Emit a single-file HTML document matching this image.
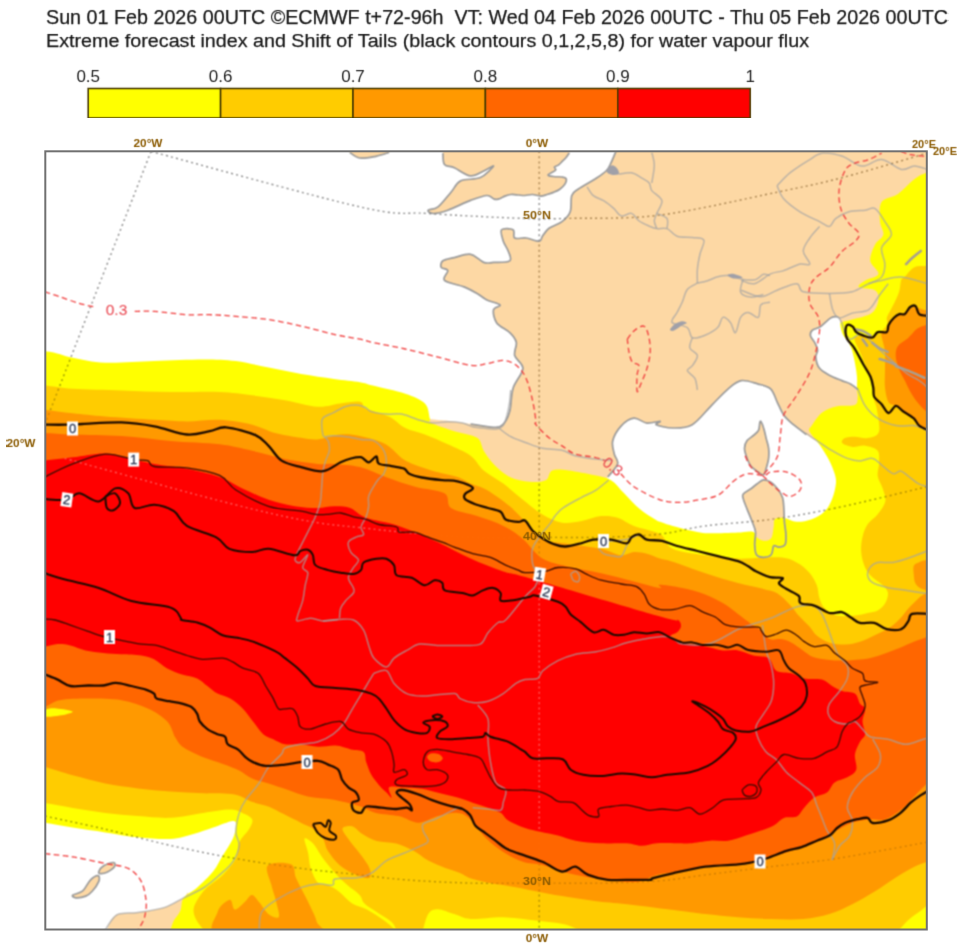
<!DOCTYPE html>
<html lang="en"><head><meta charset="utf-8"><title>ECMWF EFI water vapour flux</title>
<style>
html,body{margin:0;padding:0;background:#fff;}
body{width:980px;height:946px;overflow:hidden;font-family:"Liberation Sans",sans-serif;}
svg{display:block;font-family:"Liberation Sans",sans-serif;}
</style></head><body>
<svg width="980" height="946" viewBox="0 0 980 946">
<defs><clipPath id="fr"><rect x="45.3" y="151.3" width="881.5" height="778.2"/></clipPath>
<filter id="bl" x="0" y="0" width="100%" height="100%" color-interpolation-filters="sRGB"><feConvolveMatrix order="3" kernelMatrix="1 2 1 2 4 2 1 2 1" divisor="16" edgeMode="duplicate" preserveAlpha="true"/></filter><filter id="bt" x="0" y="0" width="100%" height="100%" color-interpolation-filters="sRGB"><feConvolveMatrix order="3" kernelMatrix="0 1 0 1 4 1 0 1 0" divisor="8" edgeMode="duplicate" preserveAlpha="false"/></filter></defs>
<rect width="980" height="946" fill="#fff"/>
<g filter="url(#bt)"><text x="46" y="24.2" font-size="19.3" fill="#1a1a1a" stroke="#1a1a1a" stroke-width="0.25" textLength="902" lengthAdjust="spacingAndGlyphs" xml:space="preserve">Sun 01 Feb 2026 00UTC ©ECMWF t+72-96h  VT: Wed 04 Feb 2026 00UTC - Thu 05 Feb 2026 00UTC</text>
<text x="46" y="47.3" font-size="18.8" fill="#1a1a1a" stroke="#1a1a1a" stroke-width="0.25" textLength="763" lengthAdjust="spacingAndGlyphs">Extreme forecast index and Shift of Tails (black contours 0,1,2,5,8) for water vapour flux</text>
<rect x="88.2" y="88.5" width="132.4" height="29.5" fill="#ffff00" stroke="#4a3c00" stroke-width="1.6"/>
<rect x="220.6" y="88.5" width="132.4" height="29.5" fill="#ffcc00" stroke="#4a3c00" stroke-width="1.6"/>
<rect x="353.0" y="88.5" width="132.4" height="29.5" fill="#ff9900" stroke="#4a3c00" stroke-width="1.6"/>
<rect x="485.4" y="88.5" width="132.4" height="29.5" fill="#ff6600" stroke="#4a3c00" stroke-width="1.6"/>
<rect x="617.8" y="88.5" width="132.4" height="29.5" fill="#ff0000" stroke="#4a3c00" stroke-width="1.6"/>
<text x="88.2" y="81.8" text-anchor="middle" font-size="17" fill="#222">0.5</text>
<text x="220.6" y="81.8" text-anchor="middle" font-size="17" fill="#222">0.6</text>
<text x="353.0" y="81.8" text-anchor="middle" font-size="17" fill="#222">0.7</text>
<text x="485.4" y="81.8" text-anchor="middle" font-size="17" fill="#222">0.8</text>
<text x="617.8" y="81.8" text-anchor="middle" font-size="17" fill="#222">0.9</text>
<text x="750.2" y="81.8" text-anchor="middle" font-size="17" fill="#222">1</text></g>
<g clip-path="url(#fr)">
<g filter="url(#bl)">
<rect x="30" y="136" width="920" height="810" fill="#fff"/>
<path d="M615.9,146.5 L615.9,146.5 C615.9,147.3 616.7,148.7 615.9,151.4 C615.1,154.1 612.6,159.6 611.0,162.9 C609.4,166.2 608.8,168.3 606.1,171.0 C603.4,173.7 599.3,176.2 594.7,179.2 C590.1,182.2 582.2,186.3 578.4,189.0 C574.6,191.7 573.2,191.7 571.8,195.5 C570.4,199.3 571.8,207.5 570.2,211.8 C568.6,216.2 565.5,218.9 562.0,221.6 C558.5,224.3 552.3,225.8 549.0,228.2 C545.7,230.6 544.0,234.1 542.4,236.3 C540.8,238.5 541.9,240.9 539.2,241.2 C536.5,241.5 530.2,238.5 526.1,238.0 C522.0,237.5 516.9,239.4 514.7,238.0 C512.5,236.6 515.3,231.2 513.1,229.8 C510.9,228.4 503.2,227.9 501.6,229.8 C500.0,231.7 502.2,237.7 503.3,241.2 C504.4,244.7 507.1,247.7 508.2,251.0 C509.3,254.3 512.2,258.9 509.8,260.8 C507.4,262.7 497.9,262.1 493.5,262.4 C489.1,262.7 487.5,263.8 483.7,262.4 C479.9,261.0 475.5,255.1 470.6,254.3 C465.7,253.5 458.9,256.5 454.3,257.6 C449.7,258.7 445.1,259.2 442.9,260.8 C440.7,262.4 440.4,265.7 441.2,267.3 C442.0,268.9 447.2,268.4 447.8,270.6 C448.4,272.8 441.8,277.7 444.5,280.4 C447.2,283.1 458.7,284.7 464.1,286.9 C469.5,289.1 473.3,291.3 477.1,293.5 C480.9,295.7 483.1,298.1 486.9,300.0 C490.7,301.9 498.9,303.3 500.0,304.9 C501.1,306.5 494.1,306.8 493.5,309.8 C492.9,312.8 494.0,319.1 496.7,322.9 C499.4,326.7 506.5,329.4 509.8,332.7 C513.1,335.9 515.5,338.6 516.3,342.4 C517.1,346.2 513.6,351.1 514.7,355.5 C515.8,359.9 523.2,363.2 522.9,368.6 C522.6,374.1 515.3,381.1 513.1,388.2 C510.9,395.3 511.4,405.0 509.8,411.0 C508.2,417.0 506.0,421.4 503.3,424.1 C500.6,426.8 498.9,427.3 493.5,427.3 C488.1,427.3 478.2,425.2 470.6,424.1 C463.0,423.0 454.3,421.6 447.8,420.8 C441.3,420.0 438.5,420.3 431.4,419.2 C424.3,418.1 415.1,416.2 405.3,414.3 C395.5,412.4 380.9,409.2 372.7,407.8 C364.5,406.4 361.8,405.6 356.3,406.1 C350.9,406.6 342.7,410.2 340.0,411.0 L340,600 L960,600 L960,130 Z" fill="#fdd8a4" />
<path d="M442.9,146.5 C442.9,147.6 442.6,150.1 442.9,153.1 C443.2,156.1 442.6,162.1 444.5,164.5 C446.4,166.9 449.9,165.9 454.3,167.8 C458.7,169.7 465.7,175.4 470.6,175.9 C475.5,176.4 479.9,172.6 483.7,171.0 C487.5,169.4 494.1,165.0 493.5,166.1 C492.9,167.2 485.8,175.1 480.4,177.6 C474.9,180.1 465.7,178.4 460.8,180.8 C455.9,183.2 454.8,187.8 451.0,192.2 C447.2,196.5 441.8,203.9 438.0,206.9 C434.2,209.9 429.0,209.1 428.2,210.2 C427.4,211.3 429.8,213.5 433.1,213.5 C436.4,213.5 441.6,212.4 447.8,210.2 C454.1,208.0 464.1,202.8 470.6,200.4 C477.1,198.0 483.0,195.7 486.9,195.5 C490.8,195.3 492.1,198.7 494.2,199.2 C496.3,199.7 497.7,199.2 499.5,198.7 C501.3,198.2 502.9,196.8 504.8,196.1 C506.7,195.4 508.8,194.7 511.1,194.5 C513.4,194.3 516.2,194.8 518.5,195.0 C520.8,195.2 522.6,195.6 524.9,195.5 C527.2,195.4 529.7,194.4 532.3,194.5 C534.9,194.6 538.2,196.1 540.7,196.1 C543.2,196.1 545.0,195.1 547.1,194.5 C549.2,193.9 551.3,193.3 553.4,192.4 C555.5,191.5 557.8,190.6 559.8,189.2 C561.8,187.8 564.0,185.7 565.1,183.9 C566.2,182.1 566.6,179.8 566.1,178.6 C565.6,177.4 564.0,177.3 561.9,177.0 C559.8,176.7 555.7,176.8 553.4,176.5 C551.1,176.2 547.8,176.0 548.1,174.9 C548.5,173.8 554.4,171.5 555.5,170.2 C556.6,168.9 554.0,167.9 554.5,167.0 C555.0,166.1 557.3,166.0 558.7,164.9 C560.1,163.8 561.7,161.9 562.9,160.7 C564.1,159.5 565.0,158.8 566.1,157.5 C567.2,156.2 568.6,155.5 569.3,152.7 C570.0,149.9 570.1,142.6 570.3,140.6Z" fill="#fdd8a4" />
<path d="M349.8,146.5 C349.8,147.5 348.2,150.5 349.8,152.4 C351.4,154.3 355.2,157.3 359.6,158.0 C364.0,158.7 371.0,157.2 375.9,156.3 C380.8,155.4 386.8,154.0 389.0,152.4 C391.2,150.8 389.0,147.5 389.0,146.5Z" fill="#fdd8a4" />
<path d="M542.4,539.0 C543.5,536.8 546.8,530.2 549.0,525.9 C551.2,521.5 552.2,517.2 555.5,512.9 C558.8,508.5 563.1,503.6 568.6,499.8 C574.1,496.0 581.7,493.8 588.2,490.0 C594.7,486.2 602.9,481.2 607.8,476.9 C612.7,472.5 616.5,467.7 617.6,463.9 C618.7,460.1 615.1,457.9 614.3,454.1 C613.5,450.3 611.6,445.6 612.7,441.0 C613.8,436.4 617.3,430.1 620.8,426.3 C624.3,422.5 629.5,418.7 633.9,418.2 C638.2,417.7 642.5,422.6 646.9,423.1 C651.2,423.6 658.4,421.1 660.0,421.4 C661.6,421.7 654.2,423.6 656.3,424.7 C658.4,425.8 666.7,428.0 672.7,428.0 C678.7,428.0 685.7,428.5 692.2,424.7 C698.7,420.9 705.8,411.1 711.8,405.1 C717.8,399.1 723.3,392.9 728.2,388.8 C733.1,384.7 736.3,381.4 741.2,380.6 C746.1,379.8 752.7,382.5 757.6,383.9 C762.5,385.3 767.4,385.8 770.6,388.8 C773.9,391.8 774.9,397.5 777.1,401.8 C779.3,406.1 781.0,411.1 783.7,414.9 C786.4,418.7 789.7,421.4 793.5,424.7 C797.3,428.0 802.7,431.8 806.5,434.5 C810.3,437.2 812.5,438.8 816.3,441.0 C820.1,443.2 823.4,444.9 829.4,447.6 C835.4,450.3 845.1,455.1 852.2,457.3 C859.3,459.5 866.3,458.4 871.8,460.6 C877.2,462.8 878.9,468.2 884.9,470.4 C890.9,472.6 901.8,471.5 907.8,473.7 C913.8,475.9 916.4,481.3 920.8,483.5 C925.1,485.7 931.7,462.3 933.9,486.7 C936.1,511.1 982.9,606.2 933.9,630.1 C884.9,654.0 689.0,630.1 640.0,630.1Z" fill="#fff" />
<path d="M838.3,316.8 C836.6,315.6 834.1,316.1 831.1,317.7 C828.1,319.3 823.4,324.6 820.3,326.7 C817.1,328.8 813.9,328.8 812.2,330.3 C810.6,331.8 810.0,333.6 810.4,335.7 C810.8,337.8 813.7,340.5 814.9,342.9 C816.1,345.3 817.5,347.7 817.6,350.1 C817.8,352.5 815.5,354.3 815.8,357.3 C816.1,360.3 817.1,365.1 819.4,368.1 C821.6,371.1 825.5,373.1 829.3,375.2 C833.0,377.3 838.3,379.1 841.9,380.6 C845.5,382.1 848.2,382.7 850.9,384.2 C853.6,385.7 856.9,390.8 858.1,389.6 C859.3,388.4 858.4,381.2 858.1,377.0 C857.8,372.8 857.0,368.7 856.3,364.5 C855.5,360.3 854.6,355.5 853.6,351.9 C852.6,348.3 851.6,345.9 850.0,342.9 C848.4,339.9 845.2,336.9 843.7,333.9 C842.2,330.9 841.9,327.8 841.0,324.9 C840.1,322.0 839.9,318.0 838.3,316.8Z" fill="#fff" />
<path d="M761.0,421.6 C761.6,422.5 762.8,425.1 763.6,427.9 C764.5,430.6 765.3,434.7 766.1,438.1 C766.9,441.5 768.2,444.8 768.6,448.2 C769.0,451.6 769.0,455.0 768.6,458.4 C768.2,461.8 766.9,465.8 766.1,468.5 C765.3,471.2 764.9,474.2 763.6,474.8 C762.3,475.4 760.6,473.8 758.5,472.3 C756.4,470.8 752.8,468.3 750.9,466.0 C749.0,463.7 748.2,461.4 747.1,458.4 C746.0,455.4 744.5,451.2 744.5,448.2 C744.5,445.2 745.6,442.7 747.1,440.6 C748.6,438.5 751.5,437.2 753.4,435.5 C755.3,433.8 757.4,432.5 758.5,430.4 C759.6,428.3 759.4,424.3 759.8,422.8 C760.2,421.3 760.4,420.8 761.0,421.6Z" fill="#fdd8a4" />
<path d="M763.6,479.9 C765.9,479.7 768.9,481.0 771.2,482.5 C773.5,484.0 775.6,486.3 777.5,488.8 C779.4,491.3 781.5,494.3 782.6,497.7 C783.7,501.1 783.6,505.1 783.9,509.1 C784.2,513.1 784.1,517.6 784.4,521.8 C784.7,526.0 785.8,530.7 785.9,534.5 C786.0,538.3 786.3,542.5 785.1,544.6 C783.9,546.7 780.7,546.9 778.8,547.1 C776.9,547.3 775.0,544.6 773.7,545.9 C772.4,547.2 772.9,552.9 771.2,554.8 C769.5,556.7 766.1,557.3 763.6,557.3 C761.1,557.3 758.0,556.9 756.5,554.8 C755.0,552.7 754.9,548.4 754.7,544.6 C754.5,540.8 755.9,535.7 755.5,531.9 C755.1,528.1 753.6,525.6 752.2,521.8 C750.8,518.0 748.6,512.9 747.1,509.1 C745.6,505.3 743.9,501.4 743.3,498.9 C742.7,496.4 742.0,495.6 743.3,493.9 C744.6,492.2 748.6,490.5 750.9,488.8 C753.2,487.1 755.1,485.2 757.2,483.7 C759.3,482.2 761.3,480.1 763.6,479.9Z" fill="#fdd8a4" />
<path d="M105.3,935.3 C106.1,933.1 108.0,925.7 110.2,922.2 C112.4,918.7 113.8,915.7 118.4,914.1 C123.0,912.5 130.4,913.5 138.0,912.4 C145.6,911.3 156.5,910.0 164.1,907.6 C171.7,905.2 179.6,899.9 183.7,897.8 C187.8,895.7 187.0,888.9 188.6,895.1 C190.2,901.4 192.7,928.6 193.5,935.3Z" fill="#fdd8a4" />
<path d="M98.8,871.6 C99.3,870.3 101.2,867.3 103.7,865.8 C106.2,864.3 111.7,862.4 113.5,862.5 C115.3,862.6 115.5,865.1 114.4,866.7 C113.3,868.3 109.2,871.1 106.9,872.3 C104.6,873.4 101.8,873.7 100.4,873.6 C99.1,873.5 98.2,872.9 98.8,871.6Z" fill="#fdd8a4" />
<path d="M72.7,895.1 C73.8,894.0 79.4,893.8 82.4,891.2 C85.4,888.7 88.0,882.4 90.6,879.8 C93.2,877.2 96.7,875.3 98.1,875.6 C99.5,875.9 99.8,878.8 98.8,881.4 C97.8,884.0 94.4,888.8 92.2,891.2 C90.0,893.7 88.4,895.0 85.7,896.1 C83.0,897.2 78.1,898.0 75.9,897.8 C73.7,897.6 71.6,896.2 72.7,895.1Z" fill="#fdd8a4" />
<path d="M-10.0,349.2 C-0.8,349.5 31.1,349.8 44.9,351.2 C58.7,352.6 62.6,355.9 72.7,357.8 C82.8,359.7 91.7,362.2 105.3,362.7 C118.9,363.2 138.0,361.6 154.3,361.0 C170.6,360.4 189.7,359.4 203.3,359.4 C216.9,359.4 225.0,359.6 235.9,361.0 C246.8,362.4 257.7,365.4 268.6,367.6 C279.5,369.8 290.3,372.2 301.2,374.1 C312.1,376.0 324.1,377.6 333.9,379.0 C343.7,380.4 353.5,381.1 360.0,382.2 C366.5,383.3 365.1,383.6 372.7,385.5 C380.2,387.4 396.6,390.7 405.3,393.7 C414.0,396.7 420.8,399.4 424.9,403.5 C429.0,407.6 428.7,414.9 429.8,418.2 C430.9,421.5 427.3,420.9 431.4,423.1 C435.5,425.3 446.7,428.8 454.3,431.2 C461.9,433.6 472.2,434.5 477.1,437.8 C482.0,441.1 481.0,446.5 483.7,450.8 C486.4,455.1 489.1,459.5 493.5,463.9 C497.9,468.2 503.8,473.9 509.8,476.9 C515.8,479.9 523.4,481.2 529.4,481.8 C535.4,482.4 541.9,482.1 545.7,480.2 C549.5,478.3 548.4,472.0 552.2,470.4 C556.0,468.8 561.5,469.6 568.6,470.4 C575.7,471.2 587.6,473.7 594.7,475.3 C601.8,476.9 606.1,477.2 611.0,480.2 C615.9,483.2 619.2,488.4 624.1,493.3 C629.0,498.2 634.4,504.7 640.4,509.6 C646.4,514.5 657.9,521.1 660.0,522.7 C662.1,524.3 651.0,518.9 653.1,519.4 C655.2,519.9 664.9,523.7 672.7,525.9 C680.5,528.1 693.0,531.2 700.1,532.4 C707.2,533.6 708.6,533.2 715.4,533.2 C722.2,533.2 734.4,532.6 740.7,532.4 C747.0,532.2 750.8,531.1 753.4,531.9 C756.0,532.7 754.8,535.5 756.5,537.0 C758.2,538.5 761.1,540.6 763.6,540.8 C766.1,541.0 769.5,540.6 771.2,538.3 C772.9,536.0 773.1,530.0 773.7,526.8 C774.3,523.6 773.2,520.7 775.0,519.2 C776.8,517.7 780.8,517.6 784.4,518.0 C788.0,518.4 792.0,521.6 796.6,521.8 C801.2,522.0 807.1,520.9 811.8,519.2 C816.4,517.5 821.1,515.0 824.5,511.6 C827.9,508.2 830.2,503.5 832.1,498.9 C834.0,494.2 835.5,487.9 835.9,483.7 C836.3,479.5 835.7,477.4 834.6,473.6 C833.5,469.8 831.6,465.1 829.5,460.9 C827.4,456.7 824.4,452.0 821.9,448.2 C819.4,444.4 816.4,441.1 814.3,438.1 C812.2,435.1 809.6,432.5 809.2,430.4 C808.8,428.3 809.7,428.3 811.8,425.4 C813.9,422.4 817.7,415.9 821.9,412.7 C826.1,409.5 831.6,407.6 837.1,406.3 C842.6,405.0 851.5,406.7 854.9,405.1 C858.3,403.5 857.4,399.4 857.7,396.8 C858.1,394.2 857.1,392.9 857.0,389.6 C856.9,386.3 857.3,381.2 857.0,377.0 C856.7,372.8 856.0,368.7 855.2,364.5 C854.5,360.3 853.5,355.5 852.5,351.9 C851.5,348.3 850.5,345.9 848.9,342.9 C847.2,339.9 844.0,336.9 842.6,333.9 C841.2,330.9 840.5,326.8 840.4,324.9 C840.3,322.9 839.9,323.1 841.9,322.2 C843.9,321.3 847.2,321.1 852.2,319.6 C857.2,318.1 867.4,316.4 871.8,313.1 C876.2,309.8 877.8,303.8 878.4,300.0 C879.0,296.2 878.4,292.4 875.1,290.2 C871.8,288.0 860.4,288.5 858.8,286.9 C857.2,285.3 862.0,282.6 865.3,280.4 C868.6,278.2 877.6,277.2 878.4,273.9 C879.2,270.6 870.8,265.7 870.2,260.8 C869.7,255.9 872.9,248.8 875.1,244.5 C877.3,240.2 882.5,238.5 883.3,234.7 C884.1,230.9 880.3,227.0 880.0,221.6 C879.7,216.2 878.6,206.6 881.6,202.0 C884.6,197.4 892.5,197.7 898.0,193.9 C903.5,190.1 909.4,182.7 914.3,179.2 C919.2,175.7 921.3,174.3 927.3,172.7 C933.3,171.1 946.4,169.9 950.2,169.4 L960,170 L960,960 L171,960 L170.6,935.3 C170.6,934.4 170.0,932.5 170.6,930.1 C171.2,927.7 172.3,923.8 173.9,920.6 C175.5,917.4 178.8,914.6 180.4,910.8 C182.0,907.0 181.0,901.6 183.7,897.8 C186.4,894.0 191.8,892.4 196.7,888.0 C201.6,883.6 208.7,877.1 213.1,871.6 C217.5,866.1 219.6,860.7 222.9,855.3 C226.2,849.9 230.5,843.9 232.7,839.0 C234.9,834.1 235.9,828.9 235.9,825.9 C235.9,822.9 236.5,820.7 232.7,821.0 C228.9,821.3 219.6,825.4 213.1,827.6 C206.6,829.8 200.6,832.2 193.5,834.1 C186.4,836.0 179.8,838.5 170.6,839.0 C161.3,839.5 148.9,838.4 138.0,837.3 C127.1,836.2 116.2,834.0 105.3,832.4 C94.4,830.8 82.8,829.2 72.7,827.6 C62.6,826.0 52.5,823.8 44.9,822.7 C37.3,821.6 29.9,821.3 26.9,821.0Z" fill="#ffff00" />
<path d="M26.9,385.5 C29.9,385.5 37.3,384.9 44.9,385.5 C52.5,386.1 59.9,388.0 72.7,388.8 C85.5,389.6 105.3,389.9 121.6,390.4 C137.9,390.9 154.3,391.7 170.6,392.0 C186.9,392.3 206.0,391.4 219.6,392.0 C233.2,392.6 241.3,393.9 252.2,395.3 C263.1,396.7 274.0,398.3 284.9,400.2 C295.8,402.1 308.4,406.1 317.6,406.7 C326.9,407.2 333.3,404.3 340.4,403.5 C347.5,402.7 355.7,401.0 360.0,401.8 C364.3,402.6 361.3,405.9 366.1,408.4 C370.9,410.8 382.5,413.2 389.0,416.5 C395.5,419.8 399.3,425.0 405.3,428.0 C411.3,431.0 417.8,431.8 424.9,434.5 C432.0,437.2 440.2,440.8 447.8,444.3 C455.4,447.8 464.6,451.4 470.6,455.7 C476.6,460.0 478.2,465.8 483.7,470.4 C489.1,475.0 496.8,478.6 503.3,483.5 C509.8,488.4 516.4,494.6 522.9,499.8 C529.4,505.0 535.9,510.7 542.4,514.5 C548.9,518.3 555.5,521.6 562.0,522.7 C568.5,523.8 575.1,522.1 581.6,521.0 C588.1,519.9 595.2,516.6 601.2,516.1 C607.2,515.6 612.2,516.2 617.6,517.8 C623.0,519.4 626.8,523.2 633.9,525.9 C641.0,528.6 653.5,530.3 660.0,534.1 C666.5,537.9 665.2,545.3 672.7,548.8 C680.2,552.3 694.4,553.7 705.3,555.3 C716.2,556.9 725.8,558.3 738.0,558.6 C750.2,558.9 769.0,556.7 778.8,557.3 C788.6,557.9 791.5,559.9 796.6,562.4 C801.7,564.9 805.8,568.7 809.2,572.5 C812.6,576.3 815.1,581.0 816.8,585.2 C818.5,589.4 818.1,594.1 819.4,597.9 C820.7,601.7 821.5,605.0 824.5,608.0 C827.5,611.0 832.0,614.3 837.1,615.6 C842.2,616.9 849.8,616.0 854.9,615.6 C860.0,615.2 863.8,613.9 867.6,613.1 C871.4,612.3 874.8,612.3 877.7,610.6 C880.7,608.9 883.6,606.0 885.3,603.0 C887.0,600.0 888.3,595.8 887.9,592.8 C887.5,589.8 885.3,587.7 882.8,585.2 C880.3,582.7 875.7,580.6 872.7,577.6 C869.8,574.6 867.0,571.6 865.1,567.4 C863.2,563.2 861.6,557.3 861.2,552.2 C860.8,547.1 861.4,541.6 862.5,537.0 C863.6,532.4 865.1,528.1 867.6,524.3 C870.1,520.5 874.8,518.0 877.7,514.2 C880.7,510.4 884.4,505.7 885.3,501.5 C886.1,497.3 884.1,493.0 882.8,488.8 C881.5,484.6 878.3,480.3 877.7,476.1 C877.1,471.9 879.0,467.6 879.0,463.4 C879.0,459.2 880.0,453.6 877.7,450.7 C875.4,447.8 869.3,446.3 865.1,445.7 C860.9,445.1 856.2,447.3 852.4,446.9 C848.6,446.5 843.5,444.6 842.2,443.1 C840.9,441.6 842.7,439.2 844.8,438.1 C846.9,437.1 851.1,436.8 854.9,436.8 C858.7,436.8 863.6,439.0 867.6,438.1 C871.6,437.2 877.5,436.5 879.0,431.7 C880.5,426.9 877.7,414.6 876.9,409.4 C876.1,404.2 874.8,403.4 874.2,400.4 C873.6,397.4 873.9,395.0 873.3,391.4 C872.7,387.8 872.0,383.3 870.6,378.8 C869.2,374.3 867.0,369.0 865.2,364.5 C863.4,360.0 861.7,356.1 859.9,351.9 C858.1,347.7 854.5,342.0 854.5,339.3 C854.5,336.6 857.2,336.0 859.9,335.7 C862.6,335.4 867.6,337.8 870.6,337.5 C873.6,337.2 875.1,336.0 877.8,333.9 C880.5,331.8 885.3,327.6 886.8,324.9 C888.3,322.2 886.2,320.1 886.8,317.7 C887.4,315.3 888.9,313.5 890.4,310.5 C891.9,307.5 894.3,303.1 895.8,299.8 C897.3,296.5 898.5,294.1 899.4,290.8 C900.3,287.5 900.4,282.3 901.2,280.0 C902.1,277.7 902.3,279.2 904.5,277.1 C906.7,275.0 910.5,269.2 914.3,267.3 C918.1,265.4 921.3,266.2 927.3,265.7 C933.3,265.2 946.4,264.4 950.2,264.1 L960,265 L960,960  L203.3,935.3 C203.3,934.4 204.4,932.5 203.3,930.1 C202.2,927.7 198.3,923.8 196.7,920.6 C195.1,917.4 193.5,914.1 193.5,910.8 C193.5,907.5 194.5,904.8 196.7,901.0 C198.9,897.2 202.1,892.4 206.5,888.0 C210.9,883.6 218.0,879.8 222.9,874.9 C227.8,870.0 233.2,864.0 235.9,858.6 C238.6,853.2 237.0,847.1 239.2,842.2 C241.4,837.3 246.8,833.0 249.0,829.2 C251.2,825.4 253.3,822.1 252.2,819.4 C251.1,816.7 246.2,814.5 242.4,812.9 C238.6,811.3 235.9,809.6 229.4,809.6 C222.9,809.6 213.1,811.5 203.3,812.9 C193.5,814.3 181.5,817.3 170.6,817.8 C159.7,818.3 148.9,816.9 138.0,816.1 C127.1,815.3 116.2,814.2 105.3,812.9 C94.4,811.5 82.8,809.6 72.7,808.0 C62.6,806.4 52.5,804.2 44.9,803.1 C37.3,802.0 29.9,801.7 26.9,801.4Z" fill="#ffcc00" />
<path d="M304.5,838.6 C305.3,837.0 310.0,840.2 313.1,843.5 C316.2,846.8 319.2,853.3 322.9,858.2 C326.6,863.1 331.0,868.4 335.1,872.9 C339.2,877.4 343.2,881.4 347.3,885.1 C351.4,888.8 356.7,891.8 359.6,894.9 C362.5,898.0 361.6,900.6 364.5,903.5 C367.4,906.4 372.2,909.0 376.7,912.0 C381.2,915.0 388.3,918.9 391.4,921.8 C394.5,924.7 396.3,929.4 395.1,929.2 C393.9,929.0 388.8,923.9 384.1,920.6 C379.4,917.3 372.2,912.5 366.9,909.6 C361.6,906.8 356.7,906.4 352.2,903.5 C347.7,900.6 344.1,895.5 340.0,892.4 C335.9,889.3 331.5,886.7 327.8,885.1 C324.1,883.5 320.9,885.6 318.0,882.7 C315.1,879.9 312.2,872.9 310.6,868.0 C309.0,863.1 309.2,858.2 308.2,853.3 C307.2,848.4 303.7,840.2 304.5,838.6Z" fill="#ffff00" />
<path d="M421.6,935.3 C422.7,931.8 425.5,918.5 428.2,914.1 C430.9,909.8 433.6,909.2 438.0,909.2 C442.4,909.2 448.9,912.5 454.3,914.1 C459.7,915.7 462.4,918.5 470.6,919.0 C478.8,919.5 492.4,917.0 503.3,917.3 C514.2,917.6 525.0,919.2 535.9,920.6 C546.8,922.0 560.4,923.0 568.6,925.5 C576.8,928.0 582.2,933.7 584.9,935.3Z" fill="#ffff00" />
<path d="M894.7,935.3 C896.9,932.8 903.4,924.7 907.8,920.6 C912.1,916.5 916.4,914.1 920.8,910.8 C925.1,907.5 929.0,903.2 933.9,901.0 C938.8,898.8 947.5,892.1 950.2,897.8 C952.9,903.5 950.2,929.0 950.2,935.3Z" fill="#ffff00" />
<path d="M26.9,410.0 C29.9,410.0 37.3,409.4 44.9,410.0 C52.5,410.6 62.6,412.2 72.7,413.3 C82.8,414.4 91.7,415.4 105.3,416.5 C118.9,417.6 140.7,419.0 154.3,419.8 C167.9,420.6 176.0,421.4 186.9,421.4 C197.8,421.4 208.7,419.2 219.6,419.8 C230.5,420.4 242.9,422.5 252.2,424.7 C261.4,426.9 266.9,430.7 275.1,432.9 C283.3,435.1 294.1,436.7 301.2,437.8 C308.3,438.9 311.1,439.9 317.6,439.4 C324.1,438.8 333.3,435.1 340.4,434.5 C347.5,433.9 352.4,434.5 360.0,436.1 C367.6,437.7 378.1,440.2 385.7,444.3 C393.2,448.4 397.7,456.2 405.3,460.6 C412.9,465.0 422.7,467.7 431.4,470.4 C440.1,473.1 451.1,474.7 457.6,476.9 C464.1,479.1 465.7,481.3 470.6,483.5 C475.5,485.7 480.4,486.2 486.9,490.0 C493.4,493.8 503.3,500.9 509.8,506.3 C516.3,511.8 520.7,517.2 526.1,522.7 C531.5,528.2 535.3,535.5 542.4,539.0 C549.5,542.5 558.8,542.3 568.6,543.9 C578.4,545.5 592.5,546.9 601.2,548.8 C609.9,550.7 615.3,554.8 620.8,555.3 C626.2,555.8 629.5,552.3 633.9,552.0 C638.2,551.7 642.5,552.6 646.9,553.7 C651.2,554.8 655.7,557.2 660.0,558.6 C664.3,560.0 665.2,559.3 672.7,561.8 C680.2,564.2 694.4,569.8 705.3,573.3 C716.2,576.8 727.2,580.2 738.0,583.1 C748.8,586.0 762.9,588.5 770.0,590.6 C777.1,592.7 777.2,593.2 780.8,595.9 C784.4,598.6 788.6,603.4 791.6,606.7 C794.6,610.0 795.8,612.4 798.8,615.7 C801.8,619.0 806.5,623.2 809.5,626.5 C812.5,629.8 813.4,632.8 816.7,635.5 C820.0,638.2 824.5,641.2 829.3,642.7 C834.1,644.2 840.4,644.6 845.5,644.5 C850.6,644.4 855.1,643.3 859.9,641.8 C864.7,640.3 869.4,637.8 874.2,635.5 C879.0,633.2 884.4,631.0 888.6,628.3 C892.8,625.6 896.1,622.6 899.4,619.3 C902.7,616.0 905.4,611.8 908.4,608.5 C911.4,605.2 914.7,601.9 917.4,599.5 C920.1,597.1 920.6,596.2 924.5,594.1 C928.4,592.0 938.0,588.2 940.7,587.0 L950.2,855.3 L950.2,855.3 C946.4,856.4 933.8,859.6 927.3,861.8 C920.8,864.0 916.4,865.7 911.0,868.4 C905.6,871.1 900.7,874.4 894.7,878.2 C888.7,882.0 882.2,886.9 875.1,891.2 C868.0,895.6 859.8,900.5 852.2,904.3 C844.6,908.1 837.5,911.6 829.4,914.1 C821.2,916.6 813.1,918.2 803.3,919.0 C793.5,919.8 781.5,919.3 770.6,919.0 C759.7,918.7 748.9,918.1 738.0,917.3 C727.1,916.5 715.1,915.2 705.3,914.1 C695.5,913.0 692.2,912.4 679.2,910.8 C666.2,909.2 641.4,905.9 627.3,904.3 C613.2,902.7 605.6,902.4 594.7,901.0 C583.8,899.6 571.8,897.7 562.0,896.1 C552.2,894.5 544.6,892.8 535.9,891.2 C527.2,889.6 517.4,887.6 509.8,886.3 C502.2,884.9 496.7,884.5 490.2,883.1 C483.7,881.8 475.6,879.9 470.6,878.2 C465.6,876.5 464.2,874.6 460.0,872.9 C455.8,871.2 450.6,870.0 445.3,868.0 C440.0,866.0 433.5,863.5 428.2,860.6 C422.9,857.7 418.8,853.6 413.5,850.8 C408.2,847.9 402.4,845.1 396.3,843.5 C390.2,841.9 382.4,842.6 376.7,841.0 C371.0,839.4 366.1,836.2 362.0,833.7 C357.9,831.2 355.5,827.1 352.2,826.3 C348.9,825.5 342.8,826.3 342.4,828.8 C342.0,831.2 346.9,836.9 349.8,841.0 C352.7,845.1 356.3,848.8 359.6,853.3 C362.9,857.8 367.8,863.9 369.4,868.0 C371.0,872.1 371.4,876.6 369.4,877.8 C367.3,879.0 362.0,877.3 357.1,875.3 C352.2,873.2 344.9,869.6 340.0,865.5 C335.1,861.4 330.7,855.3 327.8,850.8 C324.9,846.3 325.3,842.3 322.9,838.6 C320.4,834.9 316.8,831.4 313.1,828.8 C309.4,826.1 305.7,825.2 300.8,822.7 C295.9,820.2 289.0,816.8 283.7,814.1 C278.4,811.4 274.3,808.8 269.0,806.7 C263.7,804.7 257.5,803.8 251.8,801.8 C246.1,799.8 242.8,795.9 234.7,794.5 C226.6,793.1 214.0,793.8 203.3,793.3 C192.6,792.8 181.5,792.4 170.6,791.6 C159.7,790.8 148.9,789.8 138.0,788.4 C127.1,787.0 116.2,785.7 105.3,783.5 C94.4,781.3 82.8,778.0 72.7,775.3 C62.6,772.6 52.5,769.0 44.9,767.1 C37.3,765.2 29.9,764.4 26.9,763.9Z" fill="#ff9900" />
<path d="M267.8,865.5 C271.1,862.0 286.3,862.2 291.0,864.3 C295.7,866.3 293.8,873.1 295.9,877.8 C297.9,882.5 300.9,887.5 303.3,892.4 C305.8,897.3 308.4,902.2 310.6,907.1 C312.8,912.0 315.5,916.9 316.7,921.8 C317.9,926.7 334.1,934.0 318.0,936.5 C301.9,939.0 236.7,940.6 220.0,936.5 C203.3,932.4 216.0,918.1 217.6,912.0 C219.2,905.9 227.0,900.2 229.8,899.8 C232.7,899.4 232.2,909.2 234.7,909.6 C237.1,910.0 241.7,904.7 244.5,902.2 C247.3,899.8 249.4,894.9 251.8,894.9 C254.2,894.9 256.3,898.9 259.2,902.2 C262.1,905.5 265.7,912.0 269.0,914.5 C272.3,917.0 277.6,918.9 278.8,916.9 C280.0,914.9 277.5,907.5 276.3,902.2 C275.1,896.9 272.8,891.2 271.4,885.1 C270.0,879.0 264.5,869.0 267.8,865.5Z" fill="#ff9900" />
<path d="M913.8,565.8 C914.7,563.7 917.1,563.1 919.2,562.2 C921.3,561.3 923.6,559.8 926.3,560.4 C929.0,561.0 933.8,561.0 935.3,565.8 C936.8,570.6 937.4,585.3 935.3,589.2 C933.2,593.1 926.0,590.1 922.7,589.2 C919.4,588.3 917.1,586.2 915.6,583.8 C914.1,581.4 914.1,577.8 913.8,574.8 C913.5,571.8 912.9,567.9 913.8,565.8Z" fill="#ff9900" />
<path d="M935.3,308.8 C933.8,309.1 929.6,310.8 926.3,310.5 C923.0,310.2 918.6,307.3 915.6,307.0 C912.6,306.7 910.5,307.6 908.4,308.8 C906.3,310.0 905.1,312.9 903.0,314.1 C900.9,315.3 897.9,314.4 895.8,315.9 C893.7,317.4 891.9,320.4 890.4,323.1 C888.9,325.8 888.3,330.3 886.8,332.1 C885.3,333.9 882.0,332.1 881.4,333.9 C880.8,335.7 882.6,339.9 883.2,342.9 C883.8,345.9 884.7,347.4 885.0,351.9 C885.3,356.4 885.0,363.9 885.0,369.9 C885.0,375.9 884.4,382.4 885.0,387.8 C885.6,393.2 886.8,399.2 888.6,402.2 C890.4,405.2 893.4,404.3 895.8,405.8 C898.2,407.3 900.0,409.1 903.0,411.2 C906.0,413.3 911.1,416.0 913.8,418.4 C916.5,420.8 917.1,423.8 919.2,425.6 C921.3,427.4 923.6,428.3 926.3,429.2 C929.0,430.1 933.8,430.7 935.3,431.0Z" fill="#ff9900" />
<path d="M44.9,710.0 C46.8,708.6 51.7,708.1 56.3,708.4 C60.9,708.7 72.2,710.4 72.7,711.6 C73.2,712.8 64.2,714.8 59.6,715.6 C55.0,716.4 47.4,717.4 44.9,716.5 C42.4,715.6 43.0,711.4 44.9,710.0Z" fill="#ffff00" />
<path d="M26.9,432.9 C29.9,432.9 37.3,432.6 44.9,432.9 C52.5,433.2 59.9,434.0 72.7,434.5 C85.5,435.0 105.3,435.0 121.6,436.1 C137.9,437.2 154.3,439.6 170.6,441.0 C186.9,442.4 206.0,442.7 219.6,444.3 C233.2,445.9 241.3,448.4 252.2,450.8 C263.1,453.2 274.0,456.8 284.9,459.0 C295.8,461.2 309.4,463.1 317.6,463.9 C325.8,464.7 326.8,463.4 333.9,463.9 C341.0,464.4 351.4,464.9 360.0,467.1 C368.6,469.3 376.5,473.6 385.7,476.9 C394.9,480.2 405.3,484.0 415.1,486.7 C424.9,489.4 438.5,489.8 444.5,493.3 C450.5,496.9 445.6,504.2 451.0,508.0 C456.4,511.8 468.4,513.1 477.1,516.1 C485.8,519.1 495.7,522.1 503.3,525.9 C510.9,529.7 516.4,533.5 522.9,539.0 C529.4,544.5 534.8,554.0 542.4,558.6 C550.0,563.2 558.8,564.2 568.6,566.7 C578.4,569.2 590.3,570.8 601.2,573.3 C612.1,575.8 624.1,578.9 633.9,581.4 C643.7,583.9 655.7,587.5 660.0,588.0 C664.3,588.5 655.9,584.7 659.6,584.7 C663.3,584.7 674.8,586.4 682.4,588.0 C690.0,589.6 698.2,591.8 705.3,594.5 C712.4,597.2 719.4,601.0 724.9,604.3 C730.4,607.6 733.6,610.8 738.0,614.1 C742.4,617.4 747.2,621.2 751.0,623.9 C754.8,626.6 757.6,627.6 760.8,630.1 C764.0,632.6 766.7,637.6 770.0,639.1 C773.3,640.6 777.2,638.5 780.8,639.1 C784.4,639.7 788.0,640.9 791.6,642.7 C795.2,644.5 798.7,647.5 802.3,649.9 C805.9,652.3 808.9,655.4 813.1,657.0 C817.3,658.6 822.7,659.1 827.5,659.7 C832.3,660.3 837.1,660.6 841.9,660.6 C846.7,660.6 851.5,660.2 856.3,659.7 C861.1,659.2 865.8,659.0 870.6,657.9 C875.4,656.8 880.2,655.0 885.0,653.4 C889.8,651.8 894.6,650.0 899.4,648.1 C904.2,646.2 909.3,643.6 913.8,641.8 C918.3,640.0 921.8,638.9 926.3,637.3 C930.8,635.6 938.3,632.8 940.7,631.9 L950.2,767.1 L950.2,767.1 C946.4,769.8 933.3,778.6 927.3,783.5 C921.3,788.4 918.6,792.1 914.3,796.5 C909.9,800.9 906.1,805.8 901.2,809.6 C896.3,813.4 890.3,817.8 884.9,819.4 C879.5,821.0 874.0,818.8 868.6,819.4 C863.2,820.0 857.7,820.8 852.2,822.7 C846.8,824.6 840.8,828.1 835.9,830.8 C831.0,833.5 828.3,836.3 822.9,839.0 C817.5,841.7 810.9,844.4 803.3,847.1 C795.7,849.8 784.7,852.8 777.1,855.3 C769.5,857.8 764.1,860.2 757.6,861.8 C751.1,863.4 746.7,864.3 738.0,865.1 C729.3,865.9 715.1,865.6 705.3,866.7 C695.5,867.8 687.4,870.2 679.2,871.6 C671.0,873.0 662.8,873.3 656.3,874.9 C649.8,876.5 645.9,880.3 640.0,881.4 C634.1,882.5 628.3,881.9 620.8,881.4 C613.2,880.9 603.4,879.6 594.7,878.2 C586.0,876.9 577.3,875.5 568.6,873.3 C559.9,871.1 550.0,867.0 542.4,865.1 C534.8,863.2 529.4,864.0 522.9,861.8 C516.4,859.6 509.3,855.8 503.3,852.0 C497.3,848.2 492.3,844.4 486.9,839.0 C481.4,833.6 475.5,823.8 470.6,819.4 C465.7,815.0 463.0,813.4 457.6,812.9 C452.2,812.4 444.5,814.5 438.0,816.1 C431.5,817.7 424.9,822.7 418.4,822.7 C411.9,822.7 405.9,817.7 398.8,816.1 C391.7,814.5 382.4,814.5 375.9,812.9 C369.4,811.3 367.0,808.5 360.0,806.3 C353.0,804.1 342.6,801.4 333.9,799.8 C325.2,798.2 315.4,798.1 307.8,796.5 C300.2,794.9 294.7,792.2 288.2,790.0 C281.7,787.8 274.6,785.4 268.6,783.5 C262.6,781.6 257.1,780.8 252.2,778.6 C247.3,776.4 244.1,772.9 239.2,770.4 C234.3,767.9 228.9,766.1 222.9,763.9 C216.9,761.7 209.8,760.0 203.3,757.3 C196.8,754.6 188.3,750.9 183.7,747.6 C179.1,744.4 178.2,742.2 175.5,737.8 C172.8,733.4 171.9,726.3 167.3,721.4 C162.7,716.5 155.4,711.9 147.8,708.4 C140.2,704.9 131.4,701.8 121.6,700.2 C111.8,698.6 99.3,698.6 89.0,698.6 C78.7,698.6 67.0,698.9 59.6,700.2 C52.2,701.6 50.4,705.1 44.9,706.7 C39.4,708.3 29.9,709.5 26.9,710.0Z" fill="#ff6600" />
<path d="M935.3,323.1 C933.8,323.4 929.3,324.0 926.3,324.9 C923.3,325.8 919.8,327.0 917.4,328.5 C915.0,330.0 913.8,332.1 912.0,333.9 C910.2,335.7 909.0,337.2 906.6,339.3 C904.2,341.4 899.4,343.5 897.6,346.5 C895.8,349.5 895.5,353.4 895.8,357.3 C896.1,361.2 897.9,366.0 899.4,369.9 C900.9,373.8 903.0,377.0 904.8,380.6 C906.6,384.2 908.1,387.8 910.2,391.4 C912.3,395.0 914.7,398.9 917.4,402.2 C920.1,405.5 923.3,409.1 926.3,411.2 C929.3,413.3 933.8,414.2 935.3,414.8Z" fill="#ff6600" />
<path d="M26.9,462.2 C29.9,461.9 37.3,461.4 44.9,460.6 C52.5,459.8 62.6,458.5 72.7,457.3 C82.8,456.1 95.5,453.1 105.3,453.4 C115.1,453.7 123.2,457.2 131.4,459.0 C139.6,460.8 145.1,462.3 154.3,463.9 C163.6,465.5 176.0,466.6 186.9,468.8 C197.8,471.0 210.3,473.6 219.6,476.9 C228.8,480.2 234.2,484.6 242.4,488.4 C250.6,492.2 259.9,496.8 268.6,499.8 C277.3,502.8 286.5,504.9 294.7,506.3 C302.9,507.7 311.1,508.0 317.6,508.0 C324.1,508.0 328.5,506.3 333.9,506.3 C339.3,506.3 344.8,506.1 350.2,508.0 C355.6,509.9 358.0,514.8 366.1,517.8 C374.2,520.8 386.8,521.8 398.8,525.9 C410.8,530.0 426.0,536.8 438.0,542.2 C450.0,547.7 459.7,553.7 470.6,558.6 C481.5,563.5 493.5,568.3 503.3,571.6 C513.1,574.9 502.9,570.6 529.4,578.2 C555.9,585.8 637.4,610.1 662.0,617.0 C686.6,623.9 674.0,618.0 677.2,619.5 C680.4,621.0 681.0,623.8 681.0,625.9 C681.0,628.0 678.9,630.5 677.2,632.2 C675.5,633.9 670.0,634.3 670.9,636.0 C671.8,637.7 677.9,640.9 682.3,642.4 C686.7,643.9 692.9,644.1 697.5,644.9 C702.1,645.7 706.0,646.5 710.2,647.4 C714.5,648.3 718.3,649.9 723.0,650.4 C727.7,650.9 733.1,649.5 738.2,650.4 C743.3,651.2 748.3,654.2 753.4,655.5 C758.5,656.8 764.8,655.6 768.6,658.1 C772.4,660.6 772.5,668.2 776.3,670.7 C780.1,673.2 786.9,672.0 791.5,673.3 C796.1,674.6 799.1,677.3 804.2,678.4 C809.3,679.5 817.2,678.3 821.9,679.6 C826.5,680.9 828.7,684.1 832.1,686.0 C835.5,687.9 838.4,689.7 842.2,691.0 C846.0,692.3 851.9,691.5 854.9,693.6 C857.9,695.7 858.3,701.2 860.0,703.7 C861.7,706.2 864.7,705.8 865.1,708.8 C865.5,711.8 862.5,717.3 862.5,721.5 C862.5,725.7 865.5,730.8 865.1,734.2 C864.7,737.6 861.7,738.4 860.0,741.8 C858.3,745.2 855.5,749.9 854.9,754.5 C854.3,759.1 857.5,765.9 856.2,769.7 C854.9,773.5 850.9,775.2 847.3,777.3 C843.7,779.4 838.0,779.9 834.6,782.4 C831.2,784.9 830.4,790.0 827.0,792.5 C823.6,795.0 818.1,795.1 814.3,797.6 C810.5,800.1 807.2,804.5 804.2,807.7 C801.2,810.9 800.0,814.9 796.6,816.6 C793.2,818.3 787.7,816.4 783.9,817.9 C780.1,819.4 777.5,823.4 773.7,825.5 C769.9,827.6 765.6,828.9 761.0,830.6 C756.4,832.3 751.3,833.9 745.8,835.6 C740.3,837.3 734.0,839.9 728.1,840.7 C722.2,841.6 716.6,840.3 710.3,840.7 C703.9,841.1 695.5,842.9 690.0,843.3 C684.5,843.7 682.7,843.3 677.2,843.3 C671.7,843.3 662.8,842.9 656.9,843.3 C651.0,843.7 646.8,845.8 641.7,845.8 C636.6,845.8 633.3,843.7 626.5,843.3 C619.7,842.9 609.6,843.7 601.1,843.3 C592.6,842.9 582.9,842.0 575.7,840.7 C568.5,839.4 563.9,837.1 558.0,835.6 C552.1,834.1 545.7,833.1 540.2,831.8 C534.7,830.5 530.3,829.9 525.0,828.0 C519.7,826.1 512.4,822.9 508.3,820.4 C504.2,817.9 504.0,814.9 500.6,812.8 C497.2,810.7 492.6,809.4 488.0,807.7 C483.4,806.0 477.8,804.4 472.7,802.7 C467.6,801.0 463.4,799.3 457.5,797.6 C451.6,795.9 443.1,794.0 437.2,792.5 C431.3,791.0 427.9,789.6 422.0,788.7 C416.1,787.9 407.2,787.6 401.7,787.4 C396.2,787.2 390.7,785.7 389.0,787.4 C387.3,789.1 392.0,796.8 391.6,797.6 C391.2,798.5 388.6,794.6 386.5,792.5 C384.4,790.4 381.4,787.9 378.9,784.9 C376.4,781.9 373.4,778.6 371.3,774.8 C369.2,771.0 367.5,765.9 366.2,762.1 C364.9,758.3 366.1,754.0 363.6,751.9 C361.1,749.8 355.6,750.4 351.0,749.4 C346.4,748.4 341.2,746.0 335.7,745.6 C330.2,745.2 323.9,747.0 318.0,746.8 C312.1,746.6 305.7,744.7 300.2,744.3 C294.7,743.9 289.5,745.1 285.0,744.3 C280.5,743.4 276.9,740.9 273.3,739.2 C269.7,737.5 266.6,737.2 263.2,734.2 C259.8,731.2 256.4,725.7 253.0,721.5 C249.6,717.3 246.7,712.6 242.9,708.8 C239.1,705.0 234.4,701.1 230.2,698.6 C226.0,696.1 221.3,695.7 217.5,693.6 C213.7,691.5 210.8,688.5 207.4,686.0 C204.0,683.5 201.4,680.3 197.2,678.4 C193.0,676.5 187.1,676.2 182.0,674.5 C176.9,672.8 171.5,670.7 166.8,668.2 C162.2,665.7 158.3,661.4 154.1,659.3 C149.9,657.2 146.9,656.4 141.4,655.5 C135.9,654.6 127.4,654.6 121.1,654.2 C114.8,653.8 109.3,653.6 103.4,653.0 C97.5,652.4 91.1,651.7 85.6,650.4 C80.1,649.1 75.1,646.4 70.4,645.4 C65.8,644.4 61.9,643.9 57.7,644.1 C53.5,644.3 48.4,646.1 45.0,646.6 C41.6,647.1 38.7,647.3 37.4,647.4Z" fill="#ff0000" />
<path d="M427.1,757.0 C427.1,755.6 429.0,753.9 430.9,753.4 C432.8,752.9 436.5,753.2 438.5,754.0 C440.5,754.8 442.8,756.9 442.8,758.3 C442.8,759.6 440.5,761.5 438.5,762.1 C436.5,762.7 432.8,762.5 430.9,761.6 C429.0,760.8 427.1,758.4 427.1,757.0Z" fill="#ff6600" />
<path d="M615.9,151.4 C615.1,153.3 612.6,159.6 611.0,162.9 C609.4,166.2 608.8,168.3 606.1,171.0 C603.4,173.7 599.3,176.2 594.7,179.2 C590.1,182.2 582.2,186.3 578.4,189.0 C574.6,191.7 573.2,191.7 571.8,195.5 C570.4,199.3 571.8,207.5 570.2,211.8 C568.6,216.2 565.5,218.9 562.0,221.6 C558.5,224.3 552.3,225.8 549.0,228.2 C545.7,230.6 544.0,234.1 542.4,236.3 C540.8,238.5 541.9,240.9 539.2,241.2 C536.5,241.5 530.2,238.5 526.1,238.0 C522.0,237.5 516.9,239.4 514.7,238.0 C512.5,236.6 515.3,231.2 513.1,229.8 C510.9,228.4 503.2,227.9 501.6,229.8 C500.0,231.7 502.2,237.7 503.3,241.2 C504.4,244.7 507.1,247.7 508.2,251.0 C509.3,254.3 512.2,258.9 509.8,260.8 C507.4,262.7 497.9,262.1 493.5,262.4 C489.1,262.7 487.5,263.8 483.7,262.4 C479.9,261.0 475.5,255.1 470.6,254.3 C465.7,253.5 458.9,256.5 454.3,257.6 C449.7,258.7 445.1,259.2 442.9,260.8 C440.7,262.4 440.4,265.7 441.2,267.3 C442.0,268.9 447.2,268.4 447.8,270.6 C448.4,272.8 441.8,277.7 444.5,280.4 C447.2,283.1 458.7,284.7 464.1,286.9 C469.5,289.1 473.3,291.3 477.1,293.5 C480.9,295.7 483.1,298.1 486.9,300.0 C490.7,301.9 498.9,303.3 500.0,304.9 C501.1,306.5 494.1,306.8 493.5,309.8 C492.9,312.8 494.0,319.1 496.7,322.9 C499.4,326.7 506.5,329.4 509.8,332.7 C513.1,335.9 515.5,338.6 516.3,342.4 C517.1,346.2 513.6,351.1 514.7,355.5 C515.8,359.9 523.2,363.2 522.9,368.6 C522.6,374.1 515.3,381.1 513.1,388.2 C510.9,395.3 511.4,405.0 509.8,411.0 C508.2,417.0 506.0,421.4 503.3,424.1 C500.6,426.8 498.9,427.3 493.5,427.3 C488.1,427.3 474.4,424.6 470.6,424.1" fill="none" stroke="#9a9a9a" stroke-width="1.7"/>
<path d="M442.9,153.1 C443.2,155.0 442.6,162.1 444.5,164.5 C446.4,166.9 449.9,165.9 454.3,167.8 C458.7,169.7 465.7,175.4 470.6,175.9 C475.5,176.4 479.9,172.6 483.7,171.0 C487.5,169.4 494.1,165.0 493.5,166.1 C492.9,167.2 485.8,175.1 480.4,177.6 C474.9,180.1 465.7,178.4 460.8,180.8 C455.9,183.2 454.8,187.8 451.0,192.2 C447.2,196.5 441.8,203.9 438.0,206.9 C434.2,209.9 429.0,209.1 428.2,210.2 C427.4,211.3 429.8,213.5 433.1,213.5 C436.4,213.5 441.6,212.4 447.8,210.2 C454.1,208.0 464.1,202.8 470.6,200.4 C477.1,198.0 483.0,195.7 486.9,195.5 C490.8,195.3 492.1,198.7 494.2,199.2 C496.3,199.7 497.7,199.2 499.5,198.7 C501.3,198.2 502.9,196.8 504.8,196.1 C506.7,195.4 508.8,194.7 511.1,194.5 C513.4,194.3 516.2,194.8 518.5,195.0 C520.8,195.2 522.6,195.6 524.9,195.5 C527.2,195.4 529.7,194.4 532.3,194.5 C534.9,194.6 538.2,196.1 540.7,196.1 C543.2,196.1 545.0,195.1 547.1,194.5 C549.2,193.9 551.3,193.3 553.4,192.4 C555.5,191.5 557.8,190.6 559.8,189.2 C561.8,187.8 564.0,185.7 565.1,183.9 C566.2,182.1 566.6,179.8 566.1,178.6 C565.6,177.4 564.0,177.3 561.9,177.0 C559.8,176.7 555.7,176.8 553.4,176.5 C551.1,176.2 547.8,176.0 548.1,174.9 C548.5,173.8 554.4,171.5 555.5,170.2 C556.6,168.9 554.0,167.9 554.5,167.0 C555.0,166.1 557.3,166.0 558.7,164.9 C560.1,163.8 561.7,161.9 562.9,160.7 C564.1,159.5 565.0,158.8 566.1,157.5 C567.2,156.2 568.8,153.5 569.3,152.7" fill="none" stroke="#9a9a9a" stroke-width="1.7"/>
<path d="M349.8,152.4 C351.4,153.3 355.2,157.3 359.6,158.0 C364.0,158.7 371.0,157.2 375.9,156.3 C380.8,155.4 386.8,153.1 389.0,152.4" fill="none" stroke="#9a9a9a" stroke-width="1.7"/>
<path d="M761.0,421.6 C761.6,422.5 762.8,425.1 763.6,427.9 C764.5,430.6 765.3,434.7 766.1,438.1 C766.9,441.5 768.2,444.8 768.6,448.2 C769.0,451.6 769.0,455.0 768.6,458.4 C768.2,461.8 766.9,465.8 766.1,468.5 C765.3,471.2 764.9,474.2 763.6,474.8 C762.3,475.4 760.6,473.8 758.5,472.3 C756.4,470.8 752.8,468.3 750.9,466.0 C749.0,463.7 748.2,461.4 747.1,458.4 C746.0,455.4 744.5,451.2 744.5,448.2 C744.5,445.2 745.6,442.7 747.1,440.6 C748.6,438.5 751.5,437.2 753.4,435.5 C755.3,433.8 757.4,432.5 758.5,430.4 C759.6,428.3 759.4,424.3 759.8,422.8 C760.2,421.3 760.4,420.8 761.0,421.6Z" fill="none" stroke="#9a9a9a" stroke-width="1.7"/>
<path d="M763.6,479.9 C765.9,479.7 768.9,481.0 771.2,482.5 C773.5,484.0 775.6,486.3 777.5,488.8 C779.4,491.3 781.5,494.3 782.6,497.7 C783.7,501.1 783.6,505.1 783.9,509.1 C784.2,513.1 784.1,517.6 784.4,521.8 C784.7,526.0 785.8,530.7 785.9,534.5 C786.0,538.3 786.3,542.5 785.1,544.6 C783.9,546.7 780.7,546.9 778.8,547.1 C776.9,547.3 775.0,544.6 773.7,545.9 C772.4,547.2 772.9,552.9 771.2,554.8 C769.5,556.7 766.1,557.3 763.6,557.3 C761.1,557.3 758.0,556.9 756.5,554.8 C755.0,552.7 754.9,548.4 754.7,544.6 C754.5,540.8 755.9,535.7 755.5,531.9 C755.1,528.1 753.6,525.6 752.2,521.8 C750.8,518.0 748.6,512.9 747.1,509.1 C745.6,505.3 743.9,501.4 743.3,498.9 C742.7,496.4 742.0,495.6 743.3,493.9 C744.6,492.2 748.6,490.5 750.9,488.8 C753.2,487.1 755.1,485.2 757.2,483.7 C759.3,482.2 761.3,480.1 763.6,479.9Z" fill="none" stroke="#9a9a9a" stroke-width="1.7"/>
<path d="M98.8,871.6 C99.3,870.3 101.2,867.3 103.7,865.8 C106.2,864.3 111.7,862.4 113.5,862.5 C115.3,862.6 115.5,865.1 114.4,866.7 C113.3,868.3 109.2,871.1 106.9,872.3 C104.6,873.4 101.8,873.7 100.4,873.6 C99.1,873.5 98.2,872.9 98.8,871.6Z" fill="none" stroke="#9a9a9a" stroke-width="1.7"/>
<path d="M72.7,895.1 C73.8,894.0 79.4,893.8 82.4,891.2 C85.4,888.7 88.0,882.4 90.6,879.8 C93.2,877.2 96.7,875.3 98.1,875.6 C99.5,875.9 99.8,878.8 98.8,881.4 C97.8,884.0 94.4,888.8 92.2,891.2 C90.0,893.7 88.4,895.0 85.7,896.1 C83.0,897.2 78.1,898.0 75.9,897.8 C73.7,897.6 71.6,896.2 72.7,895.1Z" fill="none" stroke="#9a9a9a" stroke-width="1.7"/>
<path d="M607.8,476.9 C609.4,474.7 616.5,467.7 617.6,463.9 C618.7,460.1 615.1,457.9 614.3,454.1 C613.5,450.3 611.6,445.6 612.7,441.0 C613.8,436.4 617.3,430.1 620.8,426.3 C624.3,422.5 629.5,418.7 633.9,418.2 C638.2,417.7 642.5,422.6 646.9,423.1 C651.2,423.6 658.4,421.1 660.0,421.4 C661.6,421.7 654.2,423.6 656.3,424.7 C658.4,425.8 666.7,428.0 672.7,428.0 C678.7,428.0 685.7,428.5 692.2,424.7 C698.7,420.9 705.8,411.1 711.8,405.1 C717.8,399.1 723.3,392.9 728.2,388.8 C733.1,384.7 736.3,381.4 741.2,380.6 C746.1,379.8 752.7,382.5 757.6,383.9 C762.5,385.3 767.4,385.8 770.6,388.8 C773.9,391.8 774.9,397.5 777.1,401.8 C779.3,406.1 781.0,411.1 783.7,414.9 C786.4,418.7 789.7,421.4 793.5,424.7 C797.3,428.0 804.3,432.9 806.5,434.5" fill="none" stroke="#9a9a9a" stroke-width="1.7"/>
<path d="M838.3,316.8 C837.1,316.9 834.1,316.1 831.1,317.7 C828.1,319.3 823.4,324.6 820.3,326.7 C817.1,328.8 813.9,328.8 812.2,330.3 C810.6,331.8 810.0,333.6 810.4,335.7 C810.8,337.8 813.7,340.5 814.9,342.9 C816.1,345.3 817.5,347.7 817.6,350.1 C817.8,352.5 815.5,354.3 815.8,357.3 C816.1,360.3 817.1,365.1 819.4,368.1 C821.6,371.1 825.5,373.1 829.3,375.2 C833.0,377.3 838.3,379.1 841.9,380.6 C845.5,382.1 848.2,382.7 850.9,384.2 C853.6,385.7 856.9,388.7 858.1,389.6" fill="none" stroke="#9a9a9a" stroke-width="1.7"/>
<path d="M856.3,329.4 C857.5,329.7 861.0,330.1 863.4,331.2 C865.8,332.2 869.4,334.9 870.6,335.7" fill="none" stroke="#a8a090" stroke-width="2.6" stroke-linecap="round"/>
<path d="M862.5,339.3 L867.0,345.6" fill="none" stroke="#a8a090" stroke-width="2.6" stroke-linecap="round"/>
<path d="M872.4,342.9 C873.6,343.8 877.0,346.8 879.6,348.3 C882.2,349.8 886.4,351.3 887.7,351.9" fill="none" stroke="#a8a090" stroke-width="2.6" stroke-linecap="round"/>
<path d="M879.6,359.1 C881.1,359.6 885.9,360.9 888.6,361.8 C891.3,362.8 894.6,364.3 895.8,364.8" fill="none" stroke="#a8a090" stroke-width="2.6" stroke-linecap="round"/>
<path d="M895.8,366.3 C898.2,367.2 905.4,369.7 910.2,371.6 C915.0,373.5 922.1,376.8 924.5,377.9" fill="none" stroke="#a8a090" stroke-width="2.6" stroke-linecap="round"/>
<path d="M906.1,264.1 C907.2,263.0 910.2,259.8 912.7,257.6 C915.2,255.4 919.4,252.1 920.8,251.0" fill="none" stroke="#a8a090" stroke-width="2.6" stroke-linecap="round"/>
<path d="M805.4,433.0 C807.3,434.3 812.3,437.7 816.8,440.6 C821.2,443.6 827.0,447.7 832.1,450.7 C837.2,453.7 842.6,456.7 847.3,458.4 C851.9,460.1 855.8,460.9 860.0,460.9 C864.2,460.9 868.9,457.5 872.7,458.4 C876.5,459.2 879.4,463.5 882.8,466.0 C886.2,468.5 890.0,472.8 893.0,473.6 C896.0,474.4 898.1,470.6 900.6,471.0 C903.1,471.4 905.2,474.0 908.2,476.1 C911.2,478.2 914.7,481.8 918.3,483.7 C921.9,485.6 928.0,486.9 930.0,487.5" fill="none" stroke="#a4a4a4" stroke-width="1.5" opacity="0.72"/>
<path d="M858.1,389.6 C859.3,392.3 861.9,401.0 865.2,405.8 C868.5,410.6 872.7,415.1 877.8,418.4 C882.9,421.7 889.8,424.4 895.8,425.6 C901.8,426.8 909.0,425.0 913.8,425.6 C918.6,426.2 921.8,428.0 924.5,429.2 C927.2,430.4 929.0,432.1 929.9,432.7" fill="none" stroke="#a4a4a4" stroke-width="1.5" opacity="0.72"/>
<path d="M838.3,316.8 C838.9,317.9 840.7,320.2 841.9,323.1 C843.1,326.0 844.0,331.2 845.5,333.9 C847.0,336.6 848.5,339.3 850.9,339.3 C853.3,339.3 857.2,334.2 859.9,333.9 C862.6,333.6 864.0,335.1 867.0,337.5 C870.0,339.9 873.6,344.4 877.8,348.3 C882.0,352.2 887.4,356.7 892.2,360.9 C897.0,365.1 902.1,370.1 906.6,373.4 C911.1,376.7 915.6,378.2 919.2,380.6 C922.8,383.0 926.6,386.6 928.1,387.8" fill="none" stroke="#a4a4a4" stroke-width="1.5" opacity="0.72"/>
<path d="M930.0,549.7 C926.8,551.0 916.9,555.2 910.7,557.3 C904.5,559.4 898.5,561.5 893.0,562.4 C887.5,563.2 881.5,561.6 877.7,562.4 C873.9,563.2 871.8,565.3 870.1,567.4 C868.4,569.5 867.2,572.5 867.6,575.1 C868.0,577.7 869.3,580.6 872.7,582.7 C876.1,584.8 882.4,586.4 887.9,587.7 C893.4,589.0 898.6,589.2 905.6,590.3 C912.6,591.4 925.9,593.5 930.0,594.1" fill="none" stroke="#a4a4a4" stroke-width="1.5" opacity="0.72"/>
<path d="M323.0,435.7 C322.8,434.0 321.7,428.5 321.7,425.5 C321.7,422.5 321.1,420.0 323.0,417.9 C324.9,415.8 329.3,414.7 333.1,412.8 C336.9,410.9 341.6,407.8 345.8,406.5 C350.0,405.2 355.1,405.0 358.5,405.2 C361.9,405.4 364.0,406.7 366.1,407.8 C368.2,408.9 367.8,410.6 371.2,411.6 C374.6,412.7 381.3,413.7 386.4,414.1 C391.5,414.5 396.5,413.2 401.6,414.1 C406.7,415.0 411.7,417.7 416.8,419.2 C421.9,420.7 427.0,422.6 432.1,423.0 C437.2,423.4 442.2,421.7 447.3,421.7 C452.4,421.7 458.3,422.1 462.5,423.0 C466.7,423.9 469.3,425.9 472.7,426.8 C476.1,427.7 479.0,427.7 482.8,428.1 C486.6,428.5 492.1,429.7 495.5,429.3 C498.9,428.9 501.2,427.8 503.1,425.5 C505.0,423.2 505.8,419.2 506.9,415.4 C508.0,411.6 508.9,406.9 509.5,402.7 C510.1,398.5 510.5,392.1 510.7,390.0" fill="none" stroke="#a4a4a4" stroke-width="1.5" opacity="0.72"/>
<path d="M323.0,435.7 C323.9,436.5 327.1,438.2 328.1,440.7 C329.2,443.2 329.7,447.5 329.3,450.9 C328.9,454.3 326.6,457.6 325.5,461.0 C324.4,464.4 323.6,467.0 323.0,471.2 C322.4,475.4 322.1,481.3 321.7,486.4 C321.3,491.5 321.4,496.5 320.4,501.6 C319.3,506.7 317.5,511.7 315.4,516.8 C313.3,521.9 309.9,527.9 307.8,532.1 C305.7,536.3 304.4,538.8 302.7,542.2 C301.0,545.6 298.9,549.4 297.6,552.4 C296.3,555.4 294.7,558.3 295.1,560.0 C295.5,561.7 298.0,563.4 300.1,562.5 C302.2,561.6 307.4,554.0 307.8,554.9 C308.2,555.8 302.7,564.6 302.7,567.6 C302.7,570.6 307.4,569.8 307.8,572.7 C308.2,575.7 306.1,580.6 305.2,585.3 C304.3,589.9 304.0,595.5 302.7,600.6 C301.4,605.7 298.5,612.4 297.6,615.8 C296.8,619.2 295.5,620.5 297.6,620.9 C299.7,621.3 306.1,618.3 310.3,618.3 C314.5,618.3 318.4,620.7 323.0,620.9 C327.6,621.1 335.7,619.8 338.2,619.6" fill="none" stroke="#a4a4a4" stroke-width="1.5" opacity="0.72"/>
<path d="M325.5,436.9 C326.8,436.7 329.3,435.7 333.1,435.7 C336.9,435.7 343.8,436.3 348.4,436.9 C353.0,437.5 356.8,438.9 361.0,439.5 C365.2,440.1 369.9,438.8 373.7,440.7 C377.5,442.6 381.8,447.1 383.9,450.9 C386.0,454.7 386.4,459.8 386.4,463.6 C386.4,467.4 385.2,471.2 383.9,473.7 C382.6,476.2 380.5,476.7 378.8,478.8 C377.1,480.9 375.4,483.4 373.7,486.4 C372.0,489.4 369.5,493.2 368.6,496.6 C367.8,500.0 369.0,503.3 368.6,506.7 C368.2,510.1 367.4,513.4 366.1,516.8 C364.8,520.2 361.4,524.0 361.0,527.0 C360.6,530.0 364.4,532.9 363.6,534.6 C362.8,536.3 358.5,535.8 356.0,537.1 C353.5,538.4 349.2,539.7 348.4,542.2 C347.5,544.8 349.2,549.4 350.9,552.4 C352.6,555.4 358.1,557.5 358.5,560.0 C358.9,562.5 355.1,564.6 353.4,567.6 C351.7,570.6 348.4,574.3 348.4,577.7 C348.4,581.1 352.6,585.4 353.4,587.9 C354.2,590.4 354.7,590.9 353.4,593.0 C352.1,595.1 347.9,598.1 345.8,600.6 C343.7,603.1 341.8,605.2 340.7,608.2 C339.6,611.2 339.7,616.6 339.5,618.3" fill="none" stroke="#a4a4a4" stroke-width="1.5" opacity="0.72"/>
<path d="M496.7,426.3 C498.9,427.9 504.9,433.4 509.8,436.1 C514.7,438.8 520.7,440.7 526.1,442.7 C531.5,444.7 536.4,446.9 542.4,448.2 C548.4,449.4 556.5,448.9 562.0,450.2 C567.5,451.4 569.6,454.2 575.1,455.7 C580.6,457.2 588.4,458.2 594.7,459.0 C601.0,459.8 609.7,460.3 612.7,460.6" fill="none" stroke="#a4a4a4" stroke-width="1.5" opacity="0.72"/>
<path d="M608.7,480.0 C606.6,481.7 600.6,487.1 596.0,490.1 C591.4,493.1 586.3,494.8 580.8,497.8 C575.3,500.8 567.3,504.9 563.1,507.9 C558.9,510.8 557.5,513.0 555.4,515.5 C553.3,518.0 552.9,519.7 550.4,523.1 C547.9,526.5 543.2,531.6 540.2,535.8 C537.2,540.0 533.9,543.9 532.6,548.5 C531.3,553.1 531.8,559.1 532.6,563.7 C533.5,568.4 537.3,572.6 537.7,576.4 C538.1,580.2 537.2,583.2 535.1,586.6 C533.0,590.0 529.9,591.1 525.0,596.7 C520.1,602.3 510.2,615.7 505.7,620.0 C501.2,624.3 501.1,620.4 498.1,622.5 C495.2,624.6 491.0,629.1 488.0,632.7 C485.0,636.3 484.5,642.0 480.3,644.1 C476.1,646.2 469.8,645.2 462.6,645.4 C455.4,645.6 444.4,645.6 437.2,645.4 C430.0,645.2 424.6,643.3 419.5,644.1 C414.4,644.9 411.0,648.1 406.8,650.4 C402.6,652.7 397.5,655.4 394.1,658.1 C390.7,660.9 389.9,666.9 386.5,666.9 C383.1,666.9 376.8,661.7 373.8,658.1 C370.8,654.5 370.4,650.1 368.7,645.4 C367.0,640.7 366.1,634.3 363.6,630.1 C361.1,625.9 357.7,621.8 353.5,620.0 C349.3,618.2 343.3,619.5 338.2,619.6 C333.1,619.8 325.5,620.7 323.0,620.9" fill="none" stroke="#a4a4a4" stroke-width="1.5" opacity="0.72"/>
<path d="M598.6,548.5 C599.4,549.4 601.1,552.3 603.6,553.6 C606.1,554.9 610.8,555.7 613.8,556.1 C616.8,556.5 619.3,557.8 621.4,556.1 C623.5,554.4 624.8,549.2 626.5,546.0 C628.2,542.8 629.5,539.0 631.6,537.1 C633.7,535.2 640.1,534.1 639.2,534.5 C638.4,534.9 631.1,538.5 626.5,539.6 C621.9,540.7 615.5,540.3 611.3,540.9 C607.1,541.5 603.2,542.1 601.1,543.4 C599.0,544.7 599.0,547.6 598.6,548.5" fill="none" stroke="#a4a4a4" stroke-width="1.5" opacity="0.72"/>
<path d="M570.7,573.9 C571.5,573.5 574.2,570.9 575.7,571.3 C577.2,571.7 579.1,574.7 579.5,576.4 C579.9,578.1 579.3,580.9 578.3,581.5 C577.2,582.1 574.5,581.5 573.2,580.2 C571.9,578.9 571.1,575.0 570.7,573.9" fill="none" stroke="#a4a4a4" stroke-width="1.5" opacity="0.72"/>
<path d="M373.8,673.3 C375.9,672.9 383.1,669.0 386.5,670.7 C389.9,672.4 390.7,679.6 394.1,683.4 C397.5,687.2 402.2,691.5 406.8,693.6 C411.4,695.7 416.9,695.9 422.0,696.1 C427.1,696.3 431.7,695.2 437.2,694.8 C442.7,694.4 451.2,693.0 455.0,693.6 C458.8,694.2 457.2,697.1 460.1,698.6 C463.1,700.1 468.1,702.1 472.7,702.5 C477.3,702.9 482.9,702.7 488.0,701.2 C493.1,699.7 498.6,696.6 503.2,693.6 C507.8,690.6 512.3,685.7 515.9,683.4 C519.5,681.1 521.4,680.4 525.0,679.6 C528.6,678.8 534.7,679.9 537.7,678.4 C540.7,676.9 539.4,673.7 542.8,670.7 C546.2,667.7 552.5,663.4 558.0,660.6 C563.5,657.9 569.4,655.7 575.7,654.2 C582.0,652.7 590.1,652.8 596.0,651.7 C601.9,650.7 606.2,649.4 611.3,647.9 C616.4,646.4 621.0,644.3 626.5,642.8 C632.0,641.3 638.3,640.0 644.2,639.0 C650.1,638.0 657.4,636.7 662.0,636.5 C666.6,636.3 668.7,636.5 672.1,637.8 C675.5,639.1 676.0,643.1 682.3,644.1 C688.6,645.1 700.4,646.1 710.0,643.5 C719.6,640.9 730.0,632.7 740.0,628.5 C750.0,624.3 760.0,622.2 770.0,618.5 C780.0,614.8 791.7,607.2 800.0,606.0 C808.3,604.8 813.8,603.2 820.0,611.0 C826.2,618.8 832.6,643.9 837.1,653.0 C841.6,662.1 845.6,661.5 847.3,665.7 C849.0,669.9 848.6,674.2 847.3,678.4 C846.0,682.6 842.7,686.8 839.7,691.0 C836.7,695.2 831.4,699.9 829.5,703.7 C827.6,707.5 827.4,710.9 828.3,713.9 C829.1,716.9 831.4,719.8 834.6,721.5 C837.8,723.2 843.9,724.0 847.3,724.0 C850.7,724.0 852.4,720.6 854.9,721.5 C857.4,722.4 860.0,726.6 862.5,729.1 C865.0,731.6 865.9,735.0 870.1,736.7 C874.3,738.4 882.0,737.9 887.9,739.2 C893.8,740.5 899.7,744.3 905.6,744.3 C911.5,744.3 918.7,740.5 923.4,739.2 C928.1,737.9 931.9,737.1 933.6,736.7" fill="none" stroke="#a4a4a4" stroke-width="1.5" opacity="0.72"/>
<path d="M373.8,673.3 C372.5,675.4 368.7,681.8 366.2,686.0 C363.7,690.2 361.1,694.4 358.6,698.6 C356.1,702.8 353.5,707.1 351.0,711.3 C348.5,715.5 346.4,720.2 343.4,724.0 C340.4,727.8 337.4,731.2 333.2,734.2 C329.0,737.2 323.5,740.1 318.0,741.8 C312.5,743.5 305.7,743.2 300.2,744.3 C294.7,745.3 288.1,746.5 285.0,748.1 C281.9,749.7 284.3,750.9 281.6,754.1 C278.9,757.3 272.4,762.2 268.6,767.1 C264.8,772.0 262.6,778.0 258.8,783.5 C255.0,789.0 249.0,794.9 245.7,799.8 C242.4,804.7 240.8,807.5 239.2,812.9 C237.6,818.3 235.9,827.0 235.9,832.4 C235.9,837.8 239.7,840.6 239.2,845.5 C238.7,850.4 236.0,856.9 232.7,861.8 C229.4,866.7 224.5,870.5 219.6,874.9 C214.7,879.3 209.3,884.2 203.3,888.0 C197.3,891.8 190.2,894.5 183.7,897.8 C177.2,901.1 171.7,905.2 164.1,907.6 C156.5,910.0 145.6,911.3 138.0,912.4 C130.4,913.5 123.0,912.5 118.4,914.1 C113.8,915.7 112.4,919.5 110.2,922.2 C108.0,924.9 106.1,928.8 105.3,930.1" fill="none" stroke="#a4a4a4" stroke-width="1.5" opacity="0.72"/>
<path d="M477.8,705.0 C479.5,707.3 486.3,713.2 488.0,718.9 C489.7,724.6 487.6,732.0 488.0,739.2 C488.4,746.4 489.2,754.9 490.5,762.1 C491.8,769.3 493.1,777.8 495.6,782.4 C498.1,787.0 504.4,786.6 505.7,790.0 C507.0,793.4 504.0,799.3 503.2,802.7 C502.4,806.1 503.1,809.2 500.6,810.3 C498.1,811.3 492.6,809.4 488.0,809.0 C483.4,808.6 475.2,807.9 472.7,807.7" fill="none" stroke="#a4a4a4" stroke-width="1.5" opacity="0.72"/>
<path d="M259.2,929.2 C259.6,926.3 258.8,916.9 261.6,912.0 C264.5,907.1 269.8,903.9 276.3,899.8 C282.8,895.7 293.9,890.2 300.8,887.6 C307.8,885.0 312.7,884.3 318.0,883.9 C323.3,883.5 329.8,885.9 332.7,885.1 C335.6,884.3 331.0,880.2 335.1,879.0 C339.2,877.8 351.0,878.8 357.1,877.8 C363.2,876.8 366.9,875.8 371.8,872.9 C376.7,870.0 381.2,863.9 386.5,860.6 C391.8,857.3 398.0,855.8 403.7,853.3 C409.4,850.8 416.7,847.9 420.8,845.9 C424.9,843.9 427.8,843.5 428.2,841.0 C428.6,838.5 424.1,834.1 423.3,831.2 C422.5,828.4 421.3,825.9 423.3,823.9 C425.3,821.9 431.0,821.0 435.5,819.0 C440.0,817.0 446.1,813.6 450.2,811.6 C454.3,809.6 458.4,807.5 460.0,806.7" fill="none" stroke="#a4a4a4" stroke-width="1.5" opacity="0.72"/>
<path d="M762.5,625.0 C763.1,629.2 764.6,643.6 766.1,650.4 C767.6,657.2 769.9,660.2 771.2,665.7 C772.5,671.2 773.7,677.5 773.7,683.4 C773.7,689.3 772.9,696.1 771.2,701.2 C769.5,706.3 766.1,709.7 763.6,713.9 C761.1,718.1 756.9,722.4 756.0,726.6 C755.1,730.8 756.8,735.0 758.5,739.2 C760.2,743.4 763.1,748.5 766.1,751.9 C769.1,755.3 772.9,756.1 776.3,759.5 C779.7,762.9 782.6,768.4 786.4,772.2 C790.2,776.0 794.9,779.0 799.1,782.4 C803.3,785.8 808.8,788.7 811.8,792.5 C814.8,796.3 815.1,801.0 816.8,805.2 C818.5,809.4 820.2,813.7 821.9,817.9 C823.6,822.1 824.9,826.4 827.0,830.6 C829.1,834.8 833.8,838.4 834.6,843.3 C835.5,848.2 832.5,857.2 832.1,860.0" fill="none" stroke="#a4a4a4" stroke-width="1.5" opacity="0.72"/>
<path d="M872.7,739.2 C874.0,741.8 879.5,749.9 880.3,754.5 C881.1,759.1 880.2,763.3 877.7,767.1 C875.2,770.9 869.3,773.1 865.1,777.3 C860.9,781.5 855.4,787.4 852.4,792.5 C849.4,797.6 847.3,803.1 847.3,807.7 C847.3,812.4 852.0,815.8 852.4,820.4 C852.8,825.0 851.9,831.4 849.8,835.6 C847.7,839.8 842.7,841.7 839.7,845.8 C836.8,849.9 833.4,857.6 832.1,860.0" fill="none" stroke="#a4a4a4" stroke-width="1.5" opacity="0.72"/>
<path d="M587.1,186.8 C588.1,188.3 590.6,193.4 593.4,195.7 C596.1,198.0 600.2,198.6 603.6,200.7 C607.0,202.8 610.8,205.8 613.7,208.4 C616.7,211.0 618.3,215.2 621.3,216.0 C624.3,216.8 628.5,212.6 631.5,213.4 C634.5,214.2 636.1,218.9 639.1,221.0 C642.1,223.1 646.2,224.8 649.2,226.1 C652.2,227.4 653.8,228.2 656.8,228.6 C659.8,229.0 663.6,227.3 667.0,228.6 C670.4,229.9 672.9,234.8 677.1,236.3 C681.3,237.8 688.0,236.9 692.4,237.5 C696.8,238.1 702.5,237.3 703.8,240.1 C705.1,242.8 701.1,249.2 700.0,254.0 C698.9,258.9 697.8,264.3 697.4,269.2 C697.0,274.1 697.4,280.9 697.4,283.2" fill="none" stroke="#a4a4a4" stroke-width="1.5" opacity="0.72"/>
<path d="M618.8,174.1 C620.9,173.9 627.7,172.2 631.5,172.8 C635.3,173.4 638.6,176.2 641.6,177.9 C644.6,179.6 647.5,180.9 649.2,183.0 C650.9,185.1 649.7,187.7 651.8,190.6 C653.9,193.5 661.1,196.9 661.9,200.7 C662.7,204.5 658.1,210.0 656.8,213.4 C655.5,216.8 654.3,218.5 654.3,221.0 C654.3,223.5 656.4,227.3 656.8,228.6" fill="none" stroke="#a4a4a4" stroke-width="1.5" opacity="0.72"/>
<path d="M651.8,152.5 C652.2,154.6 654.3,160.1 654.3,165.2 C654.3,170.3 652.2,180.0 651.8,183.0" fill="none" stroke="#a4a4a4" stroke-width="1.5" opacity="0.72"/>
<path d="M656.8,213.4 C658.5,214.2 665.3,216.0 667.0,218.5 C668.7,221.0 667.0,226.9 667.0,228.6" fill="none" stroke="#a4a4a4" stroke-width="1.5" opacity="0.72"/>
<path d="M697.4,283.2 C699.1,282.8 704.2,281.8 707.6,280.7 C711.0,279.6 714.3,277.6 717.7,276.8 C721.1,276.0 723.7,275.2 727.9,275.6 C732.1,276.0 738.5,278.8 743.1,279.4 C747.8,280.0 752.4,280.2 755.8,279.4 C759.2,278.5 761.0,274.9 763.4,274.3 C765.8,273.7 768.9,275.4 770.0,275.6" fill="none" stroke="#a4a4a4" stroke-width="1.5" opacity="0.72"/>
<path d="M697.4,283.2 C695.7,284.2 689.8,286.3 687.3,289.5 C684.8,292.7 683.9,298.4 682.2,302.2 C680.5,306.0 678.8,309.0 677.1,312.4 C675.4,315.8 670.4,320.0 672.1,322.5 C673.8,325.0 683.9,325.1 687.3,327.6 C690.7,330.1 689.4,336.4 692.4,337.7 C695.4,339.0 700.9,336.9 705.1,335.2 C709.3,333.5 714.8,330.6 717.7,327.6 C720.7,324.6 720.7,318.2 722.8,317.4 C724.9,316.5 728.3,319.9 730.4,322.5 C732.5,325.1 733.8,333.6 735.5,332.7 C737.2,331.8 738.5,320.8 740.6,317.4 C742.7,314.0 745.2,312.4 748.2,312.4 C751.2,312.4 756.2,318.7 758.3,317.4 C760.4,316.1 758.9,307.3 760.9,304.8 C762.9,302.3 768.5,302.6 770.0,302.2" fill="none" stroke="#a4a4a4" stroke-width="1.5" opacity="0.72"/>
<path d="M692.4,337.7 C692.0,339.4 689.0,344.9 689.8,347.9 C690.6,350.9 697.0,352.6 697.4,355.5 C697.8,358.4 694.1,363.1 692.4,365.6 C690.7,368.1 686.9,368.6 687.3,370.7 C687.7,372.8 693.2,375.1 694.9,378.3 C696.6,381.5 697.0,388.1 697.4,390.0" fill="none" stroke="#a4a4a4" stroke-width="1.5" opacity="0.72"/>
<path d="M743.1,279.4 C742.7,281.5 739.3,289.2 740.6,292.1 C741.9,295.1 746.9,296.7 750.7,297.1 C754.5,297.5 761.3,295.0 763.4,294.6" fill="none" stroke="#a4a4a4" stroke-width="1.5" opacity="0.72"/>
<path d="M777.1,185.7 C778.2,187.9 779.9,194.5 783.7,198.8 C787.5,203.2 794.0,208.0 800.0,211.8 C806.0,215.6 814.7,219.2 819.6,221.6 C824.5,224.0 826.7,227.0 829.4,226.5 C832.1,226.0 832.6,220.8 835.9,218.4 C839.2,216.0 844.1,213.2 849.0,211.8 C853.9,210.4 860.9,210.7 865.3,210.2 C869.6,209.7 871.8,206.7 875.1,208.6 C878.4,210.5 882.2,217.2 884.9,221.6 C887.6,225.9 891.9,230.3 891.4,234.7 C890.9,239.1 882.7,242.9 881.6,247.8 C880.5,252.7 884.9,259.2 884.9,264.1 C884.9,269.0 884.3,273.8 881.6,277.1 C878.9,280.4 870.8,282.6 868.6,283.7" fill="none" stroke="#a4a4a4" stroke-width="1.5" opacity="0.72"/>
<path d="M777.1,185.7 C779.3,183.5 784.8,177.0 790.2,172.7 C795.7,168.3 804.3,162.9 809.8,159.6 C815.2,156.3 817.5,153.6 822.9,153.1 C828.3,152.6 835.9,154.1 842.4,156.3 C848.9,158.5 855.5,165.6 862.0,166.1 C868.5,166.6 875.1,159.0 881.6,159.6 C888.1,160.2 895.8,168.3 901.2,169.4 C906.7,170.5 909.9,166.1 914.3,166.1 C918.6,166.1 925.1,168.8 927.3,169.4" fill="none" stroke="#a4a4a4" stroke-width="1.5" opacity="0.72"/>
<path d="M819.6,226.5 C818.0,228.4 812.5,233.9 809.8,238.0 C807.1,242.1 803.3,246.7 803.3,251.0 C803.3,255.3 810.3,261.9 809.8,264.1 C809.2,266.3 804.4,263.0 800.0,264.1 C795.6,265.2 788.6,269.0 783.7,270.6 C778.8,272.2 775.5,271.7 770.6,273.9 C765.7,276.1 759.2,282.6 754.3,283.7 C749.4,284.8 743.4,280.9 741.2,280.4" fill="none" stroke="#a4a4a4" stroke-width="1.5" opacity="0.72"/>
<path d="M741.2,290.2 C744.5,291.3 754.8,296.7 760.8,296.7 C766.8,296.7 771.1,292.4 777.1,290.2 C783.1,288.0 792.3,283.4 796.7,283.7 C801.1,284.0 797.8,290.2 803.3,291.8 C808.8,293.4 821.2,293.5 829.4,293.5 C837.5,293.5 845.7,293.4 852.2,291.8 C858.7,290.2 863.7,285.6 868.6,283.7 C873.5,281.8 876.2,281.5 881.6,280.4 C887.0,279.3 893.6,276.6 901.2,277.1 C908.8,277.7 922.9,282.6 927.3,283.7" fill="none" stroke="#a4a4a4" stroke-width="1.5" opacity="0.72"/>
<path d="M829.4,293.5 C830.0,296.2 831.1,305.7 832.7,309.8 C834.3,313.9 836.0,317.4 839.2,318.0 C842.5,318.6 847.3,314.5 852.2,313.1 C857.1,311.7 864.2,312.5 868.6,309.8 C873.0,307.1 875.1,301.1 878.4,296.7 C881.7,292.3 886.6,285.9 888.2,283.7" fill="none" stroke="#a4a4a4" stroke-width="1.5" opacity="0.72"/>
<path d="M607.4,169.0 C608.2,167.7 610.8,165.2 612.5,165.2 C614.2,165.2 616.5,167.5 617.5,169.0 C618.5,170.5 619.6,173.1 618.8,174.1 C618.0,175.1 614.4,175.1 612.5,174.9 C610.6,174.7 608.2,173.8 607.4,172.8 C606.5,171.8 606.5,170.3 607.4,169.0Z" fill="#a0a0a8" stroke="none"/>
<path d="M727.4,275.1 C727.4,274.3 730.5,273.4 733.0,273.8 C735.5,274.2 742.6,276.8 742.6,277.6 C742.6,278.4 735.5,278.8 733.0,278.4 C730.5,278.0 727.4,275.9 727.4,275.1Z" fill="#a0a0a8" stroke="none"/>
<path d="M670.0,329.6 C670.2,328.5 673.1,325.4 675.1,324.0 C677.1,322.6 680.2,321.4 682.2,321.2 C684.2,321.0 686.9,322.3 686.8,323.0 C686.7,323.7 683.8,324.3 681.7,325.6 C679.6,326.9 676.1,329.9 674.1,330.6 C672.1,331.3 669.8,330.7 670.0,329.6Z" fill="#a0a0a8" stroke="none"/>
<path d="M151.0,151.4 L44.9,424.1" fill="none" stroke="#8a8a8a" stroke-width="1.4" stroke-dasharray="2,3.2" style="mix-blend-mode:luminosity"/>
<path d="M151.0,151.4 C185.8,160.7 313.8,196.6 360.0,206.9 C406.2,217.2 401.1,211.6 428.2,213.5 C455.3,215.4 499.5,217.6 522.9,218.4 C546.3,219.2 545.8,219.0 568.6,218.4 C591.5,217.8 625.2,219.5 660.0,215.1 C694.8,210.7 746.7,198.4 777.1,192.2 C807.5,185.9 817.4,184.1 842.4,177.6 C867.4,171.1 913.1,157.2 927.3,153.1" fill="none" stroke="#8a8a8a" stroke-width="1.4" stroke-dasharray="2,3.2" style="mix-blend-mode:luminosity"/>
<path d="M44.9,452.4 C49.5,453.8 57.2,456.2 72.7,460.6 C88.2,465.0 116.2,472.6 138.0,478.6 C159.8,484.6 181.5,490.8 203.3,496.5 C225.1,502.2 249.6,508.5 268.6,512.9 C287.7,517.3 302.4,520.2 317.6,522.7 C332.8,525.2 345.4,526.0 360.0,527.6 C374.6,529.2 386.9,530.8 405.3,532.4 C423.7,534.0 448.8,536.5 470.6,537.3 C492.4,538.1 514.1,537.3 535.9,537.3 C557.7,537.3 580.5,537.8 601.2,537.3 C621.9,536.8 642.6,536.0 660.0,534.1 C677.4,532.2 686.9,528.4 705.3,525.9 C723.7,523.4 748.8,522.4 770.6,519.4 C792.4,516.4 809.8,513.5 835.9,508.0 C862.0,502.6 912.1,490.2 927.3,486.7" fill="none" stroke="#8a8a8a" stroke-width="1.4" stroke-dasharray="2,3.2" style="mix-blend-mode:luminosity"/>
<path d="M44.9,816.1 C55.0,818.3 84.3,824.3 105.3,829.2 C126.2,834.1 148.8,840.6 170.6,845.5 C192.4,850.4 214.1,854.8 235.9,858.6 C257.7,862.4 280.5,865.7 301.2,868.4 C321.9,871.1 342.6,873.0 360.0,874.9 C377.4,876.8 386.9,878.4 405.3,879.8 C423.7,881.2 448.8,882.5 470.6,883.1 C492.4,883.7 514.1,883.1 535.9,883.1 C557.7,883.1 580.5,883.5 601.2,883.1 C621.9,882.7 642.6,882.2 660.0,880.8 C677.4,879.4 686.9,877.2 705.3,874.9 C723.7,872.5 748.8,869.4 770.6,866.7 C792.4,864.0 809.8,862.7 835.9,858.6 C862.0,854.5 912.1,844.9 927.3,842.2" fill="none" stroke="#8a8a8a" stroke-width="1.4" stroke-dasharray="2,3.2" style="mix-blend-mode:luminosity"/>
<path d="M539.2,151.0 L539.2,930.0" fill="none" stroke="#8a8a8a" stroke-width="1.4" stroke-dasharray="2,3.2" style="mix-blend-mode:luminosity"/>
<path d="M44.9,291.8 C47.4,292.6 53.9,294.8 59.6,296.7 C65.3,298.6 73.2,301.6 79.2,303.3 C85.2,305.1 92.8,306.6 95.5,307.2" fill="none" stroke="#f03c3c" stroke-width="1.3" stroke-dasharray="5.5,3.5"/>
<path d="M134.7,311.4 C138.0,311.4 145.6,310.8 154.3,311.4 C163.0,311.9 177.7,314.1 186.9,314.7 C196.2,315.2 201.6,314.4 209.8,314.7 C218.0,315.0 226.1,315.5 235.9,316.3 C245.7,317.1 257.7,318.0 268.6,319.6 C279.5,321.2 290.3,323.7 301.2,326.1 C312.1,328.6 324.1,332.1 333.9,334.3 C343.7,336.5 353.5,337.9 360.0,339.2 C366.5,340.5 365.1,340.8 372.7,342.4 C380.2,344.0 394.4,346.6 405.3,349.0 C416.2,351.4 427.1,354.4 438.0,357.1 C448.9,359.8 462.5,364.2 470.6,365.3 C478.8,366.4 481.4,364.5 486.9,363.7 C492.3,362.9 498.4,360.1 503.3,360.4 C508.2,360.7 512.5,362.3 516.3,365.3 C520.1,368.3 523.4,372.4 526.1,378.4 C528.8,384.4 531.1,394.1 532.7,401.2 C534.3,408.3 535.4,416.9 535.9,420.8 C536.4,424.7 533.7,421.9 535.9,424.7 C538.1,427.5 544.6,434.3 549.0,437.8 C553.4,441.3 557.6,443.2 562.0,445.9 C566.4,448.6 569.6,452.2 575.1,454.1 C580.6,456.0 589.8,456.2 594.7,457.3 C599.6,458.4 602.9,460.1 604.5,460.6" fill="none" stroke="#f03c3c" stroke-width="1.3" stroke-dasharray="5.5,3.5"/>
<path d="M620.8,473.7 C623.0,475.9 627.4,482.3 633.9,486.7 C640.4,491.1 652.5,497.2 660.0,499.8 C667.5,502.4 672.7,502.4 679.2,502.4 C685.7,502.4 692.3,501.1 698.8,499.8 C705.3,498.6 712.4,498.2 718.4,494.9 C724.4,491.6 729.8,483.7 734.7,480.2 C739.6,476.7 742.9,474.5 747.8,473.7 C752.7,472.9 760.3,475.6 764.1,475.3 C767.9,475.0 766.8,472.6 770.6,472.0 C774.4,471.4 782.0,470.6 786.9,472.0 C791.8,473.4 797.8,477.2 800.0,480.2 C802.2,483.2 801.6,487.3 800.0,490.0 C798.4,492.7 793.5,496.2 790.2,496.5 C786.9,496.8 783.7,493.8 780.4,491.6 C777.1,489.4 773.3,485.9 770.6,483.5 C767.9,481.1 767.4,479.6 764.1,476.9 C760.8,474.2 754.3,470.9 751.0,467.1 C747.7,463.3 745.6,456.3 744.5,454.1" fill="none" stroke="#f03c3c" stroke-width="1.3" stroke-dasharray="5.5,3.5"/>
<path d="M764.1,473.7 C766.3,471.0 774.4,463.8 777.1,457.3 C779.8,450.8 779.3,441.6 780.4,434.5 C781.5,427.4 781.0,421.4 783.7,414.9 C786.4,408.4 792.4,402.4 796.7,395.3 C801.1,388.2 806.5,380.0 809.8,372.4 C813.1,364.8 814.7,356.7 816.3,349.6 C817.9,342.5 819.3,335.6 819.6,330.0 C819.9,324.4 819.6,320.8 818.0,316.3 C816.4,311.9 811.2,308.2 809.8,303.3 C808.4,298.4 808.7,291.3 809.8,286.9 C810.9,282.5 813.0,280.4 816.3,277.1 C819.6,273.8 825.0,271.7 829.4,267.3 C833.8,262.9 838.0,255.3 842.4,251.0 C846.8,246.7 852.8,244.2 855.5,241.2 C858.2,238.2 859.9,236.1 858.8,233.1 C857.7,230.1 852.0,227.4 849.0,223.3 C846.0,219.2 842.4,214.3 840.8,208.6 C839.2,202.9 838.4,195.5 839.2,189.0 C840.0,182.5 843.0,173.8 845.7,169.4 C848.4,165.1 851.7,164.5 855.5,162.9 C859.3,161.3 864.2,161.2 868.6,159.6 C873.0,158.0 879.4,154.2 881.6,153.1" fill="none" stroke="#f03c3c" stroke-width="1.3" stroke-dasharray="5.5,3.5"/>
<path d="M901.2,151.4 C902.8,151.9 907.2,153.9 911.0,154.7 C914.8,155.5 921.9,156.0 924.1,156.3" fill="none" stroke="#f03c3c" stroke-width="1.3" stroke-dasharray="5.5,3.5"/>
<path d="M627.3,339.2 C628.4,337.8 631.2,333.2 633.9,331.0 C636.6,328.8 641.2,325.3 643.7,326.1 C646.2,326.9 647.5,331.5 648.6,335.9 C649.7,340.2 650.5,346.8 650.2,352.2 C649.9,357.6 648.5,363.2 646.9,368.6 C645.3,374.1 642.0,381.1 640.4,384.9 C638.8,388.7 637.6,393.0 637.1,391.4 C636.6,389.8 636.8,379.5 637.1,375.1 C637.4,370.8 639.6,367.5 638.8,365.3 C638.0,363.1 633.8,364.2 632.2,362.0 C630.6,359.8 629.8,356.0 629.0,352.2 C628.2,348.4 627.6,341.4 627.3,339.2" fill="none" stroke="#f03c3c" stroke-width="1.3" stroke-dasharray="5.5,3.5"/>
<path d="M44.9,853.7 C49.5,854.2 62.6,855.3 72.7,856.9 C82.8,858.5 96.0,861.6 105.3,863.5 C114.5,865.4 122.2,865.4 128.2,868.4 C134.2,871.4 138.2,876.0 141.2,881.4 C144.2,886.8 145.5,895.0 146.1,901.0 C146.7,907.0 145.8,912.4 144.5,917.3 C143.2,922.1 139.1,928.0 138.0,930.1" fill="none" stroke="#f03c3c" stroke-width="1.3" stroke-dasharray="5.5,3.5"/>
<path d="M44.9,424.7 C48.4,424.7 59.8,424.8 66.1,424.7 C72.3,424.6 73.2,424.4 82.4,424.0 C91.7,423.6 109.6,422.0 121.6,422.4 C133.6,422.8 143.4,424.3 154.3,426.3 C165.2,428.3 177.7,433.7 186.9,434.5 C196.2,435.3 203.3,432.4 209.8,431.2 C216.3,430.0 218.5,426.6 226.1,427.3 C233.7,428.0 248.4,432.0 255.5,435.1 C262.6,438.2 264.2,441.6 268.6,445.9 C273.0,450.1 276.2,457.1 281.6,460.6 C287.0,464.1 294.3,465.3 301.2,467.1 C308.1,468.9 316.4,472.0 323.0,471.2 C329.6,470.4 336.1,464.4 340.7,462.3 C345.3,460.2 347.5,459.4 350.9,458.5 C354.3,457.6 358.1,456.6 361.0,457.2 C363.9,457.8 366.1,462.4 368.6,462.3 C371.2,462.2 374.6,456.3 376.3,456.5 C378.0,456.7 376.3,462.0 378.8,463.6 C381.3,465.2 387.3,465.3 391.5,466.1 C395.7,466.9 401.2,467.3 404.2,468.6 C407.1,469.9 406.2,472.2 409.2,473.7 C412.1,475.2 416.4,476.4 421.9,477.5 C427.4,478.6 436.3,479.5 442.2,480.1 C448.1,480.7 452.3,480.0 457.4,481.3 C462.5,482.6 471.4,485.6 472.7,487.7 C474.0,489.8 466.4,492.1 465.1,494.0 C463.8,495.9 463.4,497.4 465.1,499.1 C466.8,500.8 471.4,502.7 475.2,504.2 C479.0,505.7 483.7,506.7 487.9,508.0 C492.1,509.3 497.7,509.9 500.6,511.8 C503.6,513.7 502.7,517.7 505.6,519.4 C508.6,521.1 515.1,521.7 518.3,521.9 C521.5,522.1 522.6,519.1 525.0,520.6 C527.4,522.1 529.6,527.7 532.6,530.7 C535.6,533.7 539.0,536.1 542.8,538.4 C546.6,540.7 551.6,543.4 555.4,544.7 C559.2,546.1 561.4,546.7 565.6,546.5 C569.8,546.3 576.1,544.5 580.8,543.4 C585.4,542.2 588.4,540.2 593.5,539.6 C598.6,539.0 605.8,539.0 611.3,539.6 C616.8,540.2 623.1,543.8 626.5,543.4 C629.9,543.0 629.5,538.6 631.6,537.1 C633.7,535.6 636.7,534.1 639.2,534.5 C641.7,534.9 643.0,538.5 646.8,539.6 C650.6,540.7 656.9,539.8 662.0,540.9 C667.1,542.0 671.3,544.3 677.2,546.0 C683.1,547.7 690.7,549.3 697.5,551.0 C704.3,552.7 711.0,554.4 717.8,556.1 C724.6,557.8 733.0,559.5 738.1,561.2 C743.2,562.9 745.3,564.6 748.3,566.3 C751.3,568.0 752.3,569.5 755.9,571.3 C759.5,573.1 765.5,576.0 770.0,577.1 C774.5,578.2 781.1,577.0 782.6,578.0 C784.1,579.0 778.4,581.6 779.0,583.4 C779.6,585.2 782.9,586.7 786.2,588.8 C789.5,590.9 796.4,593.5 798.8,595.9 C801.2,598.3 797.8,601.5 800.5,603.1 C803.2,604.8 810.1,604.1 814.9,605.8 C819.7,607.4 824.8,612.0 829.3,613.0 C833.8,614.0 838.3,611.4 841.9,612.1 C845.5,612.9 847.9,615.7 850.9,617.5 C853.9,619.3 856.0,622.0 859.9,622.9 C863.8,623.8 869.7,621.8 874.2,622.9 C878.7,624.0 882.3,628.2 886.8,629.2 C891.3,630.2 897.6,630.6 901.2,629.2 C904.8,627.9 906.6,623.7 908.4,621.1 C910.2,618.5 908.7,615.1 912.0,613.9 C915.3,612.7 925.4,613.9 928.1,613.9" fill="none" stroke="#1a0a00" stroke-width="2.3" stroke-linejoin="round"/>
<path d="M45.0,674.5 C47.1,675.4 53.5,677.7 57.7,679.6 C61.9,681.5 65.3,685.0 70.4,686.0 C75.5,687.0 82.6,685.6 88.1,685.5 C93.6,685.4 98.8,685.9 103.4,685.5 C108.1,685.1 111.3,682.8 116.0,682.9 C120.7,683.0 126.2,684.9 131.3,686.0 C136.4,687.1 142.7,688.5 146.5,689.8 C150.3,691.1 152.4,692.1 154.1,693.6 C155.8,695.1 154.1,697.3 156.6,698.6 C159.1,699.9 165.1,700.4 169.3,701.2 C173.5,702.1 178.2,702.7 182.0,703.7 C185.8,704.8 189.6,705.8 192.1,707.5 C194.6,709.2 195.9,711.6 197.2,713.9 C198.5,716.2 198.1,719.0 199.8,721.5 C201.5,724.0 204.5,727.0 207.4,729.1 C210.3,731.2 214.6,732.9 217.5,734.2 C220.4,735.5 223.4,735.0 225.1,736.7 C226.8,738.4 225.6,742.2 227.7,744.3 C229.8,746.4 234.9,747.3 237.8,749.4 C240.8,751.5 242.9,754.9 245.4,757.0 C247.9,759.1 249.6,760.6 253.0,762.1 C256.4,763.6 260.4,765.5 265.7,765.9 C271.0,766.3 279.2,765.2 285.0,764.6 C290.8,764.0 294.7,762.7 300.2,762.1 C305.7,761.5 313.4,760.4 318.0,760.8 C322.6,761.2 324.7,763.1 328.1,764.6 C331.5,766.1 336.0,767.2 338.3,769.7 C340.6,772.2 340.4,776.8 342.1,779.8 C343.8,782.8 346.1,785.3 348.4,787.4 C350.7,789.5 354.3,790.4 356.0,792.5 C357.7,794.6 359.2,798.4 358.6,800.1 C358.0,801.8 353.1,801.0 352.2,802.7 C351.3,804.4 352.0,808.6 353.5,810.3 C355.0,812.0 359.0,813.4 361.1,812.8 C363.2,812.2 362.8,807.4 366.2,806.5 C369.6,805.6 376.3,807.3 381.4,807.7 C386.5,808.1 392.4,809.0 396.6,809.0 C400.8,809.0 404.3,807.5 406.8,807.7 C409.3,807.9 411.4,810.9 411.8,810.3 C412.2,809.7 411.0,806.0 409.3,803.9 C407.6,801.8 403.8,799.5 401.7,797.6 C399.6,795.7 396.6,793.8 396.6,792.5 C396.6,791.2 398.3,789.8 401.7,790.0 C405.1,790.2 411.8,792.1 416.9,793.8 C422.0,795.5 427.0,798.2 432.1,800.1 C437.2,802.0 442.3,803.7 447.4,805.2 C452.5,806.7 458.8,807.3 462.6,809.0 C466.4,810.7 468.1,812.5 470.2,815.3 C472.3,818.0 472.8,822.5 475.3,825.5 C477.8,828.5 482.0,830.6 485.4,833.1 C488.8,835.6 492.2,838.2 495.6,840.7 C499.0,843.2 501.9,846.2 505.7,848.3 C509.5,850.4 512.3,851.1 518.4,853.4 C524.5,855.6 535.1,858.8 542.4,861.8 C549.7,864.8 556.5,870.8 562.0,871.6 C567.5,872.4 570.7,866.2 575.1,866.7 C579.5,867.2 582.8,872.7 588.2,874.9 C593.7,877.1 600.2,879.0 607.8,879.8 C615.4,880.6 626.8,879.8 633.9,879.8 C641.0,879.8 647.0,880.1 650.2,879.8 C653.4,879.5 649.4,879.3 653.1,878.2 C656.9,877.1 664.0,875.2 672.7,873.3 C681.4,871.4 694.4,868.2 705.3,866.7 C716.2,865.2 730.4,865.1 738.0,864.4 C745.6,863.7 746.3,863.5 751.0,862.5 C755.7,861.5 760.2,860.4 766.1,858.5 C772.0,856.6 780.5,852.8 786.4,850.9 C792.3,849.0 796.5,848.8 801.6,847.1 C806.7,845.4 812.1,842.6 816.8,840.7 C821.4,838.8 826.1,837.7 829.5,835.6 C832.9,833.5 834.6,830.1 837.1,828.0 C839.6,825.9 841.4,824.5 844.8,823.0 C848.2,821.5 853.6,820.1 857.4,819.2 C861.2,818.4 865.0,817.3 867.6,817.9 C870.2,818.5 869.3,822.6 872.7,823.0 C876.1,823.4 883.2,822.1 887.9,820.4 C892.5,818.7 896.8,815.8 900.6,812.8 C904.4,809.8 907.3,805.7 910.7,802.7 C914.1,799.8 917.7,797.2 920.9,795.1 C924.1,793.0 928.5,790.9 930.0,790.0" fill="none" stroke="#1a0a00" stroke-width="2.3" stroke-linejoin="round"/>
<path d="M44.9,476.9 C49.5,474.7 62.6,467.7 72.7,463.9 C82.8,460.1 95.1,454.8 105.3,454.1 C115.5,453.4 126.6,458.5 133.7,459.6 C140.8,460.7 144.4,459.5 147.8,460.6 C151.2,461.8 147.8,465.3 154.3,466.5 C160.8,467.7 176.0,466.3 186.9,467.8 C197.8,469.3 211.4,471.6 219.6,475.3 C227.8,479.0 227.7,484.8 235.9,490.0 C244.1,495.2 257.7,502.8 268.6,506.3 C279.5,509.8 293.4,509.9 301.2,511.2 C309.0,512.5 310.9,513.8 315.4,514.3 C319.9,514.8 323.9,514.5 328.1,514.3 C332.3,514.1 336.5,512.6 340.7,513.0 C344.9,513.4 349.2,515.7 353.4,516.8 C357.6,517.9 361.9,518.1 366.1,519.4 C370.3,520.7 373.7,523.2 378.8,524.5 C383.9,525.8 393.2,525.7 396.6,527.0 C400.0,528.3 396.2,531.2 399.1,532.1 C402.1,533.0 410.1,531.5 414.3,532.1 C418.5,532.7 419.9,534.2 424.5,535.9 C429.1,537.6 437.1,540.3 442.2,542.2 C447.3,544.1 449.8,545.4 454.9,547.3 C460.0,549.2 466.8,551.9 472.7,553.6 C478.6,555.3 484.9,555.5 490.4,557.4 C495.9,559.3 501.0,563.0 505.6,565.1 C510.2,567.2 515.1,568.9 518.3,570.1 C521.5,571.4 520.5,572.4 525.0,572.6 C529.5,572.8 539.8,572.1 545.3,571.3 C550.8,570.4 552.9,567.9 558.0,567.5 C563.1,567.1 571.1,567.7 575.7,568.8 C580.4,569.9 581.7,572.0 585.9,573.9 C590.1,575.8 595.2,578.5 601.1,580.2 C607.0,581.9 615.5,582.9 621.4,584.0 C627.3,585.1 632.8,584.9 636.6,586.6 C640.4,588.3 642.1,591.2 644.2,594.2 C646.3,597.2 646.8,601.8 649.3,604.3 C651.8,606.8 655.3,608.5 659.5,609.4 C663.7,610.2 669.6,610.0 674.7,609.4 C679.8,608.8 685.2,605.2 689.9,605.6 C694.5,606.0 698.4,610.0 702.6,611.9 C706.8,613.8 711.5,614.9 715.3,617.0 C719.1,619.1 721.2,622.9 725.4,624.6 C729.6,626.3 735.1,626.7 740.6,627.1 C746.1,627.5 755.0,626.6 758.4,627.1 C761.8,627.6 759.7,628.5 761.0,630.1 C762.3,631.7 763.6,635.9 766.1,636.5 C768.6,637.1 772.9,635.1 776.3,634.0 C779.7,632.9 783.0,629.9 786.4,630.1 C789.8,630.3 793.6,633.3 796.6,635.2 C799.6,637.1 801.2,639.7 804.2,641.6 C807.2,643.5 810.5,646.0 814.3,646.6 C818.1,647.2 823.6,644.3 827.0,645.4 C830.4,646.5 831.6,650.5 834.6,653.0 C837.6,655.5 841.8,658.1 844.8,660.6 C847.8,663.1 849.4,666.1 852.4,668.2 C855.4,670.3 860.4,671.2 862.5,673.3 C864.6,675.4 862.6,679.4 865.1,680.9 C867.6,682.4 877.3,681.6 877.7,682.2 C878.1,682.8 870.6,683.9 867.6,684.7 C864.6,685.5 860.9,685.3 860.0,687.2 C859.1,689.1 861.6,692.9 862.5,696.1 C863.4,699.3 865.5,702.9 865.1,706.3 C864.7,709.7 862.1,713.9 860.0,716.4 C857.9,718.9 854.5,720.2 852.4,721.5 C850.3,722.8 849.0,722.3 847.3,724.0 C845.6,725.7 843.9,727.8 842.2,731.6 C840.5,735.4 839.6,743.4 837.1,746.8 C834.6,750.2 830.8,750.0 827.0,751.9 C823.2,753.8 818.9,757.2 814.3,758.3 C809.6,759.4 804.2,758.9 799.1,758.3 C794.0,757.7 787.7,753.9 783.9,754.5 C780.1,755.1 779.3,759.1 776.3,762.1 C773.3,765.1 769.1,768.8 766.1,772.2 C763.1,775.6 759.4,779.4 758.5,782.4 C757.6,785.4 761.4,787.5 761.0,790.0 C760.6,792.5 759.4,796.1 756.0,797.6 C752.6,799.1 746.2,798.5 740.7,798.9 C735.2,799.3 727.6,798.6 723.0,800.1 C718.4,801.6 716.6,805.4 712.8,807.7 C709.0,810.0 703.9,814.1 700.1,814.1 C696.3,814.1 693.8,808.3 690.0,807.7 C686.2,807.1 681.9,810.1 677.2,810.3 C672.5,810.5 666.6,809.0 662.0,809.0 C657.4,809.0 653.1,810.5 649.3,810.3 C645.5,810.1 643.0,808.6 639.2,807.7 C635.4,806.9 631.1,805.4 626.5,805.2 C621.9,805.0 615.9,805.9 611.3,806.5 C606.6,807.1 600.7,807.3 598.6,809.0 C596.5,810.7 600.3,815.6 598.6,816.6 C596.9,817.6 591.4,816.6 588.4,815.3 C585.4,814.0 583.3,811.1 580.8,809.0 C578.3,806.9 577.0,804.0 573.2,802.7 C569.4,801.4 561.8,802.5 558.0,801.4 C554.2,800.3 553.8,798.0 550.4,796.3 C547.0,794.6 541.9,792.2 537.7,791.2 C533.5,790.2 529.9,790.2 525.0,790.0 C520.1,789.8 512.8,790.4 508.3,790.0 C503.8,789.6 501.1,789.5 498.1,787.4 C495.1,785.3 492.6,780.7 490.5,777.3 C488.4,773.9 487.1,770.3 485.4,767.1 C483.7,763.9 483.2,760.4 480.3,758.3 C477.4,756.2 472.4,755.6 467.7,754.5 C463.0,753.4 457.5,752.8 452.4,751.9 C447.3,751.0 441.4,749.4 437.2,749.4 C433.0,749.4 429.4,749.8 427.1,751.9 C424.8,754.0 423.3,759.1 423.3,762.1 C423.3,765.1 424.8,768.4 427.1,769.7 C429.4,771.0 433.8,768.9 437.2,769.7 C440.6,770.6 446.1,772.7 447.4,774.8 C448.7,776.9 447.4,780.5 444.8,782.4 C442.2,784.3 437.6,785.6 432.1,786.2 C426.6,786.8 417.7,786.4 411.8,786.2 C405.9,786.0 399.1,786.0 396.6,784.9 C394.1,783.8 394.9,781.5 396.6,779.8 C398.3,778.1 405.5,776.5 406.8,774.8 C408.1,773.1 406.3,770.1 404.2,769.7 C402.1,769.3 395.8,773.1 394.1,772.2 C392.4,771.4 394.5,768.0 394.1,764.6 C393.7,761.2 392.9,755.7 391.6,751.9 C390.3,748.1 389.5,744.8 386.5,741.8 C383.5,738.8 378.0,735.7 373.8,734.2 C369.6,732.7 365.3,733.8 361.1,732.9 C356.9,732.0 351.8,731.0 348.4,729.1 C345.0,727.2 344.6,722.4 340.8,721.5 C337.0,720.6 330.7,722.7 325.6,724.0 C320.5,725.3 314.6,728.7 310.4,729.1 C306.2,729.5 302.3,728.7 300.2,726.6 C298.1,724.5 299.0,719.4 297.7,716.4 C296.4,713.4 294.7,710.1 292.6,708.8 C290.5,707.5 287.4,708.8 285.0,708.8 C282.6,708.8 280.3,710.5 278.4,708.8 C276.4,707.1 275.4,702.4 273.3,698.6 C271.2,694.8 268.2,690.2 265.7,686.0 C263.2,681.8 261.9,676.3 258.1,673.3 C254.3,670.3 247.1,670.1 242.9,668.2 C238.7,666.3 236.1,663.6 232.7,661.9 C229.3,660.2 227.7,658.5 222.6,658.1 C217.5,657.7 208.2,659.7 202.3,659.3 C196.4,658.9 192.2,657.0 187.1,655.5 C182.0,654.0 176.9,652.1 171.8,650.4 C166.7,648.7 161.7,646.4 156.6,645.4 C151.5,644.4 147.3,645.0 141.4,644.1 C135.5,643.2 127.4,641.6 121.1,640.3 C114.8,639.0 108.9,638.0 103.4,636.5 C97.9,635.0 93.6,633.3 88.1,631.4 C82.6,629.5 75.9,627.0 70.4,625.1 C64.9,623.2 59.4,621.0 55.1,620.0 C50.9,619.0 46.6,619.2 44.9,619.1" fill="none" stroke="#3a0c00" stroke-width="1.3" stroke-linejoin="round"/>
<path d="M44.9,499.1 C48.5,499.2 61.1,500.8 66.8,499.8 C72.5,498.8 73.9,493.0 79.2,493.3 C84.5,493.6 92.8,502.2 98.8,501.4 C104.8,500.6 110.2,489.8 115.1,488.4 C120.0,487.0 124.9,490.0 128.2,493.3 C131.5,496.6 130.3,506.1 134.7,508.0 C139.0,509.9 147.8,504.2 154.3,504.7 C160.8,505.2 168.5,507.7 173.9,511.2 C179.3,514.7 179.8,521.5 186.9,525.9 C194.0,530.2 209.2,533.5 216.3,537.3 C223.4,541.1 223.4,546.3 229.4,548.8 C235.4,551.2 245.7,552.0 252.2,552.0 C258.7,552.0 261.5,548.2 268.6,548.8 C275.7,549.3 289.4,554.9 294.7,555.3 C299.9,555.7 297.9,552.0 300.1,551.1 C302.3,550.2 305.7,549.2 307.8,549.8 C309.9,550.4 311.5,552.3 312.8,554.9 C314.1,557.5 312.8,562.6 315.4,565.1 C317.9,567.6 323.9,568.8 328.1,570.1 C332.3,571.4 336.5,572.1 340.7,572.7 C344.9,573.3 350.0,574.3 353.4,573.9 C356.8,573.5 359.3,572.0 361.0,570.1 C362.7,568.2 361.1,564.4 363.6,562.5 C366.2,560.6 372.5,559.3 376.3,558.7 C380.1,558.1 383.4,557.6 386.4,558.7 C389.3,559.8 392.3,562.4 394.0,565.1 C395.7,567.9 393.6,573.1 396.6,575.2 C399.6,577.3 407.2,576.0 411.8,577.7 C416.4,579.4 420.7,584.9 424.5,585.3 C428.3,585.7 431.7,580.7 434.6,580.3 C437.6,579.9 440.5,581.1 442.2,582.8 C443.9,584.5 441.4,588.7 444.8,590.4 C448.2,592.1 457.9,592.1 462.5,593.0 C467.1,593.9 469.3,595.9 472.7,595.5 C476.1,595.1 479.4,591.7 482.8,590.4 C486.2,589.1 490.0,587.5 493.0,587.9 C496.0,588.3 499.3,590.9 500.6,593.0 C501.9,595.1 498.9,599.3 500.6,600.6 C502.3,601.9 505.8,601.2 510.7,600.6 C515.6,600.0 525.9,597.7 530.0,596.8 C534.1,595.9 530.4,594.6 535.1,595.4 C539.8,596.2 552.9,599.9 558.0,601.8 C563.1,603.7 563.5,604.7 565.6,606.8 C567.7,608.9 568.2,612.0 570.7,614.5 C573.2,617.0 577.0,619.1 580.8,622.1 C584.6,625.1 589.7,630.9 593.5,632.2 C597.3,633.5 600.2,629.3 603.6,629.7 C607.0,630.1 610.4,633.9 613.8,634.8 C617.2,635.6 620.5,635.2 623.9,634.8 C627.3,634.4 630.3,632.4 634.1,632.2 C637.9,632.0 642.6,633.5 646.8,633.5 C651.0,633.5 655.7,631.6 659.5,632.2 C663.3,632.8 665.8,635.6 669.6,637.3 C673.4,639.0 678.5,641.5 682.3,642.4 C686.1,643.2 689.0,642.0 692.4,642.4 C695.8,642.8 698.4,644.5 702.6,644.9 C706.8,645.3 713.6,644.5 717.8,644.9 C722.0,645.3 724.6,647.4 728.0,647.4 C731.4,647.4 734.7,644.5 738.1,644.9 C741.5,645.3 743.6,648.9 748.3,650.0 C753.0,651.1 761.0,651.6 766.1,651.7 C771.2,651.8 775.8,648.9 778.8,650.4 C781.8,651.9 782.2,657.6 783.9,660.6 C785.6,663.6 786.4,665.7 788.9,668.2 C791.4,670.7 796.4,673.3 799.1,675.8 C801.9,678.3 804.1,680.0 805.4,683.4 C806.7,686.8 807.3,692.3 806.7,696.1 C806.1,699.9 804.1,703.3 801.6,706.3 C799.1,709.3 795.7,711.4 791.5,713.9 C787.3,716.4 780.9,719.4 776.3,721.5 C771.6,723.6 767.8,724.9 763.6,726.6 C759.4,728.3 755.5,731.0 750.9,731.6 C746.2,732.2 739.5,731.2 735.7,730.4 C731.9,729.6 730.2,728.5 728.1,726.6 C726.0,724.7 725.1,721.2 723.0,718.9 C720.9,716.6 718.4,714.7 715.4,712.6 C712.4,710.5 709.0,708.2 705.2,706.3 C701.4,704.4 693.8,701.4 692.5,701.2 C691.2,701.0 694.6,702.9 697.6,705.0 C700.6,707.1 706.9,711.1 710.3,713.9 C713.7,716.6 715.8,719.0 717.9,721.5 C720.0,724.0 720.5,727.2 723.0,729.1 C725.5,731.0 731.0,731.2 733.1,732.9 C735.2,734.6 736.1,736.9 735.7,739.2 C735.3,741.5 733.2,743.8 730.6,746.8 C728.0,749.8 724.2,753.8 720.4,757.0 C716.6,760.2 712.9,763.4 707.8,765.9 C702.7,768.4 696.8,770.7 690.0,772.2 C683.2,773.7 673.5,773.9 667.1,774.8 C660.7,775.6 656.9,777.3 651.8,777.3 C646.7,777.3 641.7,775.4 636.6,774.8 C631.5,774.2 627.3,773.3 621.4,773.5 C615.5,773.7 607.4,775.8 601.1,776.0 C594.8,776.2 588.5,775.8 583.4,774.8 C578.3,773.8 574.1,772.2 570.7,769.7 C567.3,767.2 566.9,761.4 563.1,759.5 C559.3,757.6 552.9,758.5 547.8,758.3 C542.7,758.1 536.4,759.4 532.6,758.3 C528.8,757.2 527.0,753.4 525.0,751.9 C523.0,750.4 523.7,751.1 520.9,749.4 C518.1,747.7 513.4,743.9 508.3,741.8 C503.2,739.7 494.3,738.2 490.5,736.7 C486.7,735.2 486.7,732.9 485.4,732.9 C484.1,732.9 485.8,735.9 482.9,736.7 C479.9,737.6 473.2,737.6 467.7,738.0 C462.2,738.4 455.0,739.2 449.9,739.2 C444.8,739.2 438.9,739.3 437.2,738.0 C435.5,736.7 438.1,733.5 439.8,731.6 C441.5,729.7 446.6,728.3 447.4,726.6 C448.2,724.9 447.4,722.6 444.8,721.5 C442.2,720.4 435.7,720.0 432.1,720.2 C428.5,720.4 423.7,721.6 423.3,722.7 C422.9,723.8 429.0,724.9 429.6,726.6 C430.2,728.3 429.2,731.9 427.1,732.9 C425.0,733.9 420.7,733.5 416.9,732.9 C413.1,732.3 408.0,731.2 404.2,729.1 C400.4,727.0 397.1,723.6 394.1,720.2 C391.2,716.8 389.0,712.4 386.5,708.8 C384.0,705.2 381.4,701.1 378.9,698.6 C376.4,696.1 375.1,695.1 371.3,693.6 C367.5,692.1 361.9,690.7 356.0,689.8 C350.1,688.9 342.5,688.6 335.7,688.0 C328.9,687.4 320.0,687.6 315.4,686.0 C310.8,684.4 310.8,681.4 307.8,678.4 C304.9,675.4 301.5,671.6 297.7,668.2 C293.9,664.8 288.2,660.6 285.0,658.1 C281.8,655.6 281.2,654.7 278.4,653.0 C275.6,651.3 272.5,649.8 268.3,647.9 C264.1,646.0 258.1,643.3 253.0,641.6 C247.9,639.9 242.9,638.9 237.8,637.8 C232.7,636.7 227.2,636.9 222.6,635.2 C217.9,633.5 214.1,629.7 209.9,627.6 C205.7,625.5 201.8,623.8 197.2,622.5 C192.5,621.2 184.8,620.9 182.0,620.0 C179.2,619.1 182.3,619.4 180.4,617.3 C178.5,615.2 178.8,610.3 170.6,607.6 C162.4,604.9 143.4,604.3 131.4,601.0 C119.4,597.7 109.7,591.5 98.8,588.0 C87.9,584.5 75.1,582.2 66.1,579.8 C57.1,577.3 48.4,574.4 44.9,573.3" fill="none" stroke="#1a0a00" stroke-width="2.0" stroke-linejoin="round"/>
<path d="M105.3,496.5 C106.9,496.0 112.6,492.2 115.1,493.3 C117.5,494.4 120.3,500.3 120.0,503.1 C119.7,505.9 115.7,509.4 113.5,510.2 C111.3,511.0 108.3,510.3 106.9,508.0 C105.5,505.7 105.6,498.4 105.3,496.5" fill="none" stroke="#1a0a00" stroke-width="2.0" stroke-linejoin="round"/>
<path d="M312.9,824.2 C314.2,824.0 318.4,822.6 320.5,823.0 C322.6,823.4 324.3,827.2 325.6,826.8 C326.9,826.4 327.2,821.0 328.1,820.4 C329.0,819.8 330.5,821.3 330.7,823.0 C330.9,824.7 328.6,828.5 329.4,830.6 C330.2,832.7 334.8,834.1 335.7,835.6 C336.6,837.1 336.2,839.1 334.5,839.5 C332.8,839.9 328.4,839.3 325.6,838.2 C322.9,837.1 320.1,835.4 318.0,833.1 C315.9,830.8 313.8,825.7 312.9,824.2" fill="none" stroke="#1a0a00" stroke-width="2.0" stroke-linejoin="round"/>
<path d="M432.1,716.4 C433.0,716.1 435.5,714.4 437.2,714.4 C438.9,714.4 442.3,715.6 442.3,716.4 C442.3,717.1 438.9,718.9 437.2,718.9 C435.5,718.9 433.0,716.8 432.1,716.4" fill="none" stroke="#1a0a00" stroke-width="2.0" stroke-linejoin="round"/>
<path d="M742.0,790.0 C743.1,789.1 746.1,785.5 748.4,784.9 C750.7,784.3 754.6,784.9 756.0,786.2 C757.4,787.5 757.4,790.8 756.5,792.5 C755.6,794.2 752.9,795.9 750.9,796.3 C748.9,796.7 746.0,796.1 744.5,795.1 C743.0,794.1 742.4,790.9 742.0,790.0" fill="none" stroke="#3a0c00" stroke-width="1.3" stroke-linejoin="round"/>
<path d="M928.1,315.9 C926.6,315.6 921.3,315.7 919.2,314.1 C917.1,312.5 917.1,307.3 915.6,306.1 C914.1,304.9 912.0,305.7 910.2,307.0 C908.4,308.3 906.6,312.9 904.8,314.1 C903.0,315.3 901.2,313.5 899.4,314.1 C897.6,314.7 895.8,315.9 894.0,317.7 C892.2,319.5 889.8,322.5 888.6,324.9 C887.4,327.3 888.6,330.9 886.8,332.1 C885.0,333.3 880.2,331.2 877.8,332.1 C875.4,333.0 874.8,336.9 872.4,337.5 C870.0,338.1 866.1,336.6 863.4,335.7 C860.7,334.8 858.1,333.6 856.3,332.1 C854.5,330.6 854.2,327.9 852.7,326.7 C851.2,325.5 848.5,324.0 847.3,324.9 C846.1,325.8 845.5,329.7 845.5,332.1 C845.5,334.5 845.8,336.6 847.3,339.3 C848.8,342.0 851.8,344.1 854.5,348.3 C857.2,352.5 860.7,359.7 863.4,364.5 C866.1,369.3 869.0,373.1 870.6,377.0 C872.2,380.9 872.7,384.5 873.3,387.8 C873.9,391.1 872.9,394.1 874.2,396.8 C875.6,399.5 879.0,401.3 881.4,404.0 C883.8,406.7 886.2,412.7 888.6,413.0 C891.0,413.3 893.4,406.1 895.8,405.8 C898.2,405.5 900.0,409.1 903.0,411.2 C906.0,413.3 911.1,416.0 913.8,418.4 C916.5,420.8 916.8,423.7 919.2,425.6 C921.6,427.6 926.6,429.4 928.1,430.1" fill="none" stroke="#1a0a00" stroke-width="2.3" stroke-linejoin="round"/>
<g transform="translate(72.5,428.5) rotate(0)"><rect x="-5.5" y="-7" width="11" height="14" fill="#fff"/><text x="0" y="4.6" text-anchor="middle" font-size="13" fill="#26324f" stroke="#26324f" stroke-width="0.3">0</text></g>
<g transform="translate(133.7,459.6) rotate(0)"><rect x="-5.5" y="-7" width="11" height="14" fill="#fff"/><text x="0" y="4.6" text-anchor="middle" font-size="13" fill="#26324f" stroke="#26324f" stroke-width="0.3">1</text></g>
<g transform="translate(66.8,499.8) rotate(8)"><rect x="-5.5" y="-7" width="11" height="14" fill="#fff"/><text x="0" y="4.6" text-anchor="middle" font-size="13" fill="#26324f" stroke="#26324f" stroke-width="0.3">2</text></g>
<g transform="translate(109.5,637) rotate(0)"><rect x="-5.5" y="-7" width="11" height="14" fill="#fff"/><text x="0" y="4.6" text-anchor="middle" font-size="13" fill="#26324f" stroke="#26324f" stroke-width="0.3">1</text></g>
<g transform="translate(307,762) rotate(0)"><rect x="-5.5" y="-7" width="11" height="14" fill="#fff"/><text x="0" y="4.6" text-anchor="middle" font-size="13" fill="#26324f" stroke="#26324f" stroke-width="0.3">0</text></g>
<g transform="translate(603.5,541) rotate(0)"><rect x="-5.5" y="-7" width="11" height="14" fill="#fff"/><text x="0" y="4.6" text-anchor="middle" font-size="13" fill="#26324f" stroke="#26324f" stroke-width="0.3">0</text></g>
<g transform="translate(539.5,574.5) rotate(10)"><rect x="-5.5" y="-7" width="11" height="14" fill="#fff"/><text x="0" y="4.6" text-anchor="middle" font-size="13" fill="#26324f" stroke="#26324f" stroke-width="0.3">1</text></g>
<g transform="translate(546.5,592) rotate(15)"><rect x="-5.5" y="-7" width="11" height="14" fill="#fff"/><text x="0" y="4.6" text-anchor="middle" font-size="13" fill="#26324f" stroke="#26324f" stroke-width="0.3">2</text></g>
<g transform="translate(760,861.5) rotate(0)"><rect x="-5.5" y="-7" width="11" height="14" fill="#fff"/><text x="0" y="4.6" text-anchor="middle" font-size="13" fill="#26324f" stroke="#26324f" stroke-width="0.3">0</text></g>
<text x="116.5" y="314.5" text-anchor="middle" font-size="15.5" fill="#e83c46">0.3</text>
<g transform="translate(612.5,467) rotate(38)"><text x="0" y="4.5" text-anchor="middle" font-size="15" fill="#e83c46">0.3</text></g>
</g>
</g>
<rect x="45.3" y="151.3" width="881.5" height="778.2" fill="none" stroke="#707070" stroke-width="2"/>
<g filter="url(#bt)"><text x="148" y="147" text-anchor="middle" font-size="11" font-weight="bold" fill="#8a5a00" textLength="29" lengthAdjust="spacingAndGlyphs">20°W</text>
<text x="537" y="147" text-anchor="middle" font-size="11" font-weight="bold" fill="#8a5a00" textLength="22.5" lengthAdjust="spacingAndGlyphs">0°W</text>
<text x="924" y="147.8" text-anchor="middle" font-size="11" font-weight="bold" fill="#8a5a00" textLength="24" lengthAdjust="spacingAndGlyphs">20°E</text>
<text x="945" y="154.5" text-anchor="middle" font-size="11" font-weight="bold" fill="#8a5a00" textLength="24" lengthAdjust="spacingAndGlyphs">20°E</text>
<text x="21" y="447" text-anchor="middle" font-size="11" font-weight="bold" fill="#8a5a00" textLength="29" lengthAdjust="spacingAndGlyphs">20°W</text>
<text x="537" y="942" text-anchor="middle" font-size="11" font-weight="bold" fill="#8a5a00" textLength="22.5" lengthAdjust="spacingAndGlyphs">0°W</text>
<text x="537" y="219" text-anchor="middle" font-size="11" font-weight="bold" fill="#8a5a00" textLength="28" lengthAdjust="spacingAndGlyphs">50°N</text>
<text x="537" y="540" text-anchor="middle" font-size="11" font-weight="bold" fill="#8a5a00" textLength="28" lengthAdjust="spacingAndGlyphs">40°N</text>
<text x="537" y="885" text-anchor="middle" font-size="11" font-weight="bold" fill="#8a5a00" textLength="28" lengthAdjust="spacingAndGlyphs">30°N</text></g>
</svg>
</body></html>
